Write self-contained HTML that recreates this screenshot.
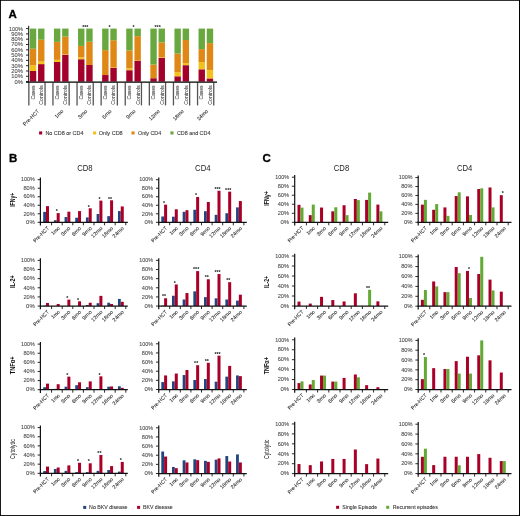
<!DOCTYPE html>
<html><head><meta charset="utf-8"><style>
html,body{margin:0;padding:0;background:#fff;}
svg{display:block;filter:blur(0.3px);}
text{font-family:"Liberation Sans", sans-serif;}
</style></head><body>
<svg width="520" height="516" viewBox="0 0 520 516">
<rect x="0.00" y="0.00" width="520.00" height="516.00" fill="#000"/>
<rect x="0.90" y="0.80" width="518.10" height="514.30" fill="#fff"/>
<text x="8.60" y="18.30" font-size="11.5" text-anchor="start" fill="#000" font-weight="bold" stroke="#000" stroke-width="0.3">A</text>
<text x="8.90" y="161.60" font-size="11.5" text-anchor="start" fill="#000" font-weight="bold" stroke="#000" stroke-width="0.3">B</text>
<text x="262.60" y="161.60" font-size="11.5" text-anchor="start" fill="#000" font-weight="bold" stroke="#000" stroke-width="0.3">C</text>
<rect x="29.85" y="71.00" width="6.40" height="10.60" fill="#a3002c"/>
<rect x="29.85" y="65.17" width="6.40" height="5.83" fill="#f2c21c"/>
<rect x="29.85" y="48.74" width="6.40" height="16.43" fill="#e08816"/>
<rect x="29.85" y="28.60" width="6.40" height="20.14" fill="#68a83e"/>
<rect x="38.05" y="64.11" width="6.40" height="17.49" fill="#a3002c"/>
<rect x="38.05" y="61.46" width="6.40" height="2.65" fill="#f2c21c"/>
<rect x="38.05" y="39.73" width="6.40" height="21.73" fill="#e08816"/>
<rect x="38.05" y="28.60" width="6.40" height="11.13" fill="#68a83e"/>
<line x1="28.85" y1="82.40" x2="28.85" y2="105.40" stroke="#555" stroke-width="1.3"/>
<line x1="45.05" y1="82.40" x2="45.05" y2="105.40" stroke="#555" stroke-width="1.3"/>
<text transform="translate(34.75,85.40) rotate(-90)" x="0" y="0" font-size="5.2" text-anchor="end" fill="#444" font-weight="normal" textLength="14.20" lengthAdjust="spacingAndGlyphs" stroke="#444" stroke-width="0.08">Cases</text>
<text transform="translate(43.15,85.40) rotate(-90)" x="0" y="0" font-size="5.2" text-anchor="end" fill="#444" font-weight="normal" textLength="19.30" lengthAdjust="spacingAndGlyphs" stroke="#444" stroke-width="0.08">Controls</text>
<rect x="53.95" y="61.99" width="6.40" height="19.61" fill="#a3002c"/>
<rect x="53.95" y="59.87" width="6.40" height="2.12" fill="#f2c21c"/>
<rect x="53.95" y="41.85" width="6.40" height="18.02" fill="#e08816"/>
<rect x="53.95" y="28.60" width="6.40" height="13.25" fill="#68a83e"/>
<rect x="62.15" y="54.89" width="6.40" height="26.71" fill="#a3002c"/>
<rect x="62.15" y="54.57" width="6.40" height="0.32" fill="#f2c21c"/>
<rect x="62.15" y="36.55" width="6.40" height="18.02" fill="#e08816"/>
<rect x="62.15" y="28.60" width="6.40" height="7.95" fill="#68a83e"/>
<line x1="52.95" y1="82.40" x2="52.95" y2="105.40" stroke="#555" stroke-width="1.3"/>
<line x1="69.15" y1="82.40" x2="69.15" y2="105.40" stroke="#555" stroke-width="1.3"/>
<text transform="translate(58.85,85.40) rotate(-90)" x="0" y="0" font-size="5.2" text-anchor="end" fill="#444" font-weight="normal" textLength="14.20" lengthAdjust="spacingAndGlyphs" stroke="#444" stroke-width="0.08">Cases</text>
<text transform="translate(67.25,85.40) rotate(-90)" x="0" y="0" font-size="5.2" text-anchor="end" fill="#444" font-weight="normal" textLength="19.30" lengthAdjust="spacingAndGlyphs" stroke="#444" stroke-width="0.08">Controls</text>
<rect x="78.05" y="59.23" width="6.40" height="22.37" fill="#a3002c"/>
<rect x="78.05" y="57.33" width="6.40" height="1.91" fill="#f2c21c"/>
<rect x="78.05" y="45.93" width="6.40" height="11.39" fill="#e08816"/>
<rect x="78.05" y="28.60" width="6.40" height="17.33" fill="#68a83e"/>
<rect x="86.25" y="65.01" width="6.40" height="16.59" fill="#a3002c"/>
<rect x="86.25" y="41.74" width="6.40" height="23.27" fill="#e08816"/>
<rect x="86.25" y="28.60" width="6.40" height="13.14" fill="#68a83e"/>
<line x1="77.05" y1="82.40" x2="77.05" y2="105.40" stroke="#555" stroke-width="1.3"/>
<line x1="93.25" y1="82.40" x2="93.25" y2="105.40" stroke="#555" stroke-width="1.3"/>
<text transform="translate(82.95,85.40) rotate(-90)" x="0" y="0" font-size="5.2" text-anchor="end" fill="#444" font-weight="normal" textLength="14.20" lengthAdjust="spacingAndGlyphs" stroke="#444" stroke-width="0.08">Cases</text>
<text transform="translate(91.35,85.40) rotate(-90)" x="0" y="0" font-size="5.2" text-anchor="end" fill="#444" font-weight="normal" textLength="19.30" lengthAdjust="spacingAndGlyphs" stroke="#444" stroke-width="0.08">Controls</text>
<rect x="102.15" y="75.03" width="6.40" height="6.57" fill="#a3002c"/>
<rect x="102.15" y="50.12" width="6.40" height="24.91" fill="#e08816"/>
<rect x="102.15" y="28.60" width="6.40" height="21.52" fill="#68a83e"/>
<rect x="110.35" y="67.82" width="6.40" height="13.78" fill="#a3002c"/>
<rect x="110.35" y="67.45" width="6.40" height="0.37" fill="#f2c21c"/>
<rect x="110.35" y="40.26" width="6.40" height="27.19" fill="#e08816"/>
<rect x="110.35" y="28.60" width="6.40" height="11.66" fill="#68a83e"/>
<line x1="101.15" y1="82.40" x2="101.15" y2="105.40" stroke="#555" stroke-width="1.3"/>
<line x1="117.35" y1="82.40" x2="117.35" y2="105.40" stroke="#555" stroke-width="1.3"/>
<text transform="translate(107.05,85.40) rotate(-90)" x="0" y="0" font-size="5.2" text-anchor="end" fill="#444" font-weight="normal" textLength="14.20" lengthAdjust="spacingAndGlyphs" stroke="#444" stroke-width="0.08">Cases</text>
<text transform="translate(115.45,85.40) rotate(-90)" x="0" y="0" font-size="5.2" text-anchor="end" fill="#444" font-weight="normal" textLength="19.30" lengthAdjust="spacingAndGlyphs" stroke="#444" stroke-width="0.08">Controls</text>
<rect x="126.25" y="70.20" width="6.40" height="11.39" fill="#a3002c"/>
<rect x="126.25" y="68.46" width="6.40" height="1.75" fill="#f2c21c"/>
<rect x="126.25" y="50.38" width="6.40" height="18.07" fill="#e08816"/>
<rect x="126.25" y="28.60" width="6.40" height="21.78" fill="#68a83e"/>
<rect x="134.45" y="60.93" width="6.40" height="20.67" fill="#a3002c"/>
<rect x="134.45" y="60.72" width="6.40" height="0.21" fill="#f2c21c"/>
<rect x="134.45" y="36.18" width="6.40" height="24.54" fill="#e08816"/>
<rect x="134.45" y="28.60" width="6.40" height="7.58" fill="#68a83e"/>
<line x1="125.25" y1="82.40" x2="125.25" y2="105.40" stroke="#555" stroke-width="1.3"/>
<line x1="141.45" y1="82.40" x2="141.45" y2="105.40" stroke="#555" stroke-width="1.3"/>
<text transform="translate(131.15,85.40) rotate(-90)" x="0" y="0" font-size="5.2" text-anchor="end" fill="#444" font-weight="normal" textLength="14.20" lengthAdjust="spacingAndGlyphs" stroke="#444" stroke-width="0.08">Cases</text>
<text transform="translate(139.55,85.40) rotate(-90)" x="0" y="0" font-size="5.2" text-anchor="end" fill="#444" font-weight="normal" textLength="19.30" lengthAdjust="spacingAndGlyphs" stroke="#444" stroke-width="0.08">Controls</text>
<rect x="150.35" y="78.21" width="6.40" height="3.39" fill="#a3002c"/>
<rect x="150.35" y="64.53" width="6.40" height="13.67" fill="#e08816"/>
<rect x="150.35" y="28.60" width="6.40" height="35.93" fill="#68a83e"/>
<rect x="158.55" y="57.75" width="6.40" height="23.85" fill="#a3002c"/>
<rect x="158.55" y="57.22" width="6.40" height="0.53" fill="#f2c21c"/>
<rect x="158.55" y="42.38" width="6.40" height="14.84" fill="#e08816"/>
<rect x="158.55" y="28.60" width="6.40" height="13.78" fill="#68a83e"/>
<line x1="149.35" y1="82.40" x2="149.35" y2="105.40" stroke="#555" stroke-width="1.3"/>
<line x1="165.55" y1="82.40" x2="165.55" y2="105.40" stroke="#555" stroke-width="1.3"/>
<text transform="translate(155.25,85.40) rotate(-90)" x="0" y="0" font-size="5.2" text-anchor="end" fill="#444" font-weight="normal" textLength="14.20" lengthAdjust="spacingAndGlyphs" stroke="#444" stroke-width="0.08">Cases</text>
<text transform="translate(163.65,85.40) rotate(-90)" x="0" y="0" font-size="5.2" text-anchor="end" fill="#444" font-weight="normal" textLength="19.30" lengthAdjust="spacingAndGlyphs" stroke="#444" stroke-width="0.08">Controls</text>
<rect x="174.45" y="76.30" width="6.40" height="5.30" fill="#a3002c"/>
<rect x="174.45" y="72.11" width="6.40" height="4.19" fill="#f2c21c"/>
<rect x="174.45" y="53.51" width="6.40" height="18.60" fill="#e08816"/>
<rect x="174.45" y="28.60" width="6.40" height="24.91" fill="#68a83e"/>
<rect x="182.65" y="65.17" width="6.40" height="16.43" fill="#a3002c"/>
<rect x="182.65" y="63.05" width="6.40" height="2.12" fill="#f2c21c"/>
<rect x="182.65" y="40.00" width="6.40" height="23.05" fill="#e08816"/>
<rect x="182.65" y="28.60" width="6.40" height="11.40" fill="#68a83e"/>
<line x1="173.45" y1="82.40" x2="173.45" y2="105.40" stroke="#555" stroke-width="1.3"/>
<line x1="189.65" y1="82.40" x2="189.65" y2="105.40" stroke="#555" stroke-width="1.3"/>
<text transform="translate(179.35,85.40) rotate(-90)" x="0" y="0" font-size="5.2" text-anchor="end" fill="#444" font-weight="normal" textLength="14.20" lengthAdjust="spacingAndGlyphs" stroke="#444" stroke-width="0.08">Cases</text>
<text transform="translate(187.75,85.40) rotate(-90)" x="0" y="0" font-size="5.2" text-anchor="end" fill="#444" font-weight="normal" textLength="19.30" lengthAdjust="spacingAndGlyphs" stroke="#444" stroke-width="0.08">Controls</text>
<rect x="198.55" y="69.30" width="6.40" height="12.30" fill="#a3002c"/>
<rect x="198.55" y="62.10" width="6.40" height="7.21" fill="#f2c21c"/>
<rect x="198.55" y="49.11" width="6.40" height="12.98" fill="#e08816"/>
<rect x="198.55" y="28.60" width="6.40" height="20.51" fill="#68a83e"/>
<rect x="206.75" y="78.42" width="6.40" height="3.18" fill="#a3002c"/>
<rect x="206.75" y="69.94" width="6.40" height="8.48" fill="#f2c21c"/>
<rect x="206.75" y="43.12" width="6.40" height="26.82" fill="#e08816"/>
<rect x="206.75" y="28.60" width="6.40" height="14.52" fill="#68a83e"/>
<line x1="197.55" y1="82.40" x2="197.55" y2="105.40" stroke="#555" stroke-width="1.3"/>
<line x1="213.75" y1="82.40" x2="213.75" y2="105.40" stroke="#555" stroke-width="1.3"/>
<text transform="translate(203.45,85.40) rotate(-90)" x="0" y="0" font-size="5.2" text-anchor="end" fill="#444" font-weight="normal" textLength="14.20" lengthAdjust="spacingAndGlyphs" stroke="#444" stroke-width="0.08">Cases</text>
<text transform="translate(211.85,85.40) rotate(-90)" x="0" y="0" font-size="5.2" text-anchor="end" fill="#444" font-weight="normal" textLength="19.30" lengthAdjust="spacingAndGlyphs" stroke="#444" stroke-width="0.08">Controls</text>
<line x1="28.70" y1="25.80" x2="28.70" y2="82.40" stroke="#111" stroke-width="1.0"/>
<line x1="26.00" y1="82.15" x2="217.00" y2="82.15" stroke="#000" stroke-width="1.1"/>
<line x1="26.00" y1="81.60" x2="28.70" y2="81.60" stroke="#111" stroke-width="0.9"/>
<text x="22.90" y="83.50" font-size="5.0" text-anchor="end" fill="#4a4a4a" font-weight="normal" textLength="8.40" lengthAdjust="spacingAndGlyphs" stroke="#4a4a4a" stroke-width="0.08">0%</text>
<line x1="26.00" y1="76.30" x2="28.70" y2="76.30" stroke="#111" stroke-width="0.9"/>
<text x="22.90" y="78.20" font-size="5.0" text-anchor="end" fill="#4a4a4a" font-weight="normal" textLength="11.60" lengthAdjust="spacingAndGlyphs" stroke="#4a4a4a" stroke-width="0.08">10%</text>
<line x1="26.00" y1="71.00" x2="28.70" y2="71.00" stroke="#111" stroke-width="0.9"/>
<text x="22.90" y="72.90" font-size="5.0" text-anchor="end" fill="#4a4a4a" font-weight="normal" textLength="11.60" lengthAdjust="spacingAndGlyphs" stroke="#4a4a4a" stroke-width="0.08">20%</text>
<line x1="26.00" y1="65.70" x2="28.70" y2="65.70" stroke="#111" stroke-width="0.9"/>
<text x="22.90" y="67.60" font-size="5.0" text-anchor="end" fill="#4a4a4a" font-weight="normal" textLength="11.60" lengthAdjust="spacingAndGlyphs" stroke="#4a4a4a" stroke-width="0.08">30%</text>
<line x1="26.00" y1="60.40" x2="28.70" y2="60.40" stroke="#111" stroke-width="0.9"/>
<text x="22.90" y="62.30" font-size="5.0" text-anchor="end" fill="#4a4a4a" font-weight="normal" textLength="11.60" lengthAdjust="spacingAndGlyphs" stroke="#4a4a4a" stroke-width="0.08">40%</text>
<line x1="26.00" y1="55.10" x2="28.70" y2="55.10" stroke="#111" stroke-width="0.9"/>
<text x="22.90" y="57.00" font-size="5.0" text-anchor="end" fill="#4a4a4a" font-weight="normal" textLength="11.60" lengthAdjust="spacingAndGlyphs" stroke="#4a4a4a" stroke-width="0.08">50%</text>
<line x1="26.00" y1="49.80" x2="28.70" y2="49.80" stroke="#111" stroke-width="0.9"/>
<text x="22.90" y="51.70" font-size="5.0" text-anchor="end" fill="#4a4a4a" font-weight="normal" textLength="11.60" lengthAdjust="spacingAndGlyphs" stroke="#4a4a4a" stroke-width="0.08">60%</text>
<line x1="26.00" y1="44.50" x2="28.70" y2="44.50" stroke="#111" stroke-width="0.9"/>
<text x="22.90" y="46.40" font-size="5.0" text-anchor="end" fill="#4a4a4a" font-weight="normal" textLength="11.60" lengthAdjust="spacingAndGlyphs" stroke="#4a4a4a" stroke-width="0.08">70%</text>
<line x1="26.00" y1="39.20" x2="28.70" y2="39.20" stroke="#111" stroke-width="0.9"/>
<text x="22.90" y="41.10" font-size="5.0" text-anchor="end" fill="#4a4a4a" font-weight="normal" textLength="11.60" lengthAdjust="spacingAndGlyphs" stroke="#4a4a4a" stroke-width="0.08">80%</text>
<line x1="26.00" y1="33.90" x2="28.70" y2="33.90" stroke="#111" stroke-width="0.9"/>
<text x="22.90" y="35.80" font-size="5.0" text-anchor="end" fill="#4a4a4a" font-weight="normal" textLength="11.60" lengthAdjust="spacingAndGlyphs" stroke="#4a4a4a" stroke-width="0.08">90%</text>
<line x1="26.00" y1="28.60" x2="28.70" y2="28.60" stroke="#111" stroke-width="0.9"/>
<text x="22.90" y="30.50" font-size="5.0" text-anchor="end" fill="#4a4a4a" font-weight="normal" textLength="13.90" lengthAdjust="spacingAndGlyphs" stroke="#4a4a4a" stroke-width="0.08">100%</text>
<text transform="translate(39.55,111.60) rotate(-45)" x="0" y="0" font-size="5.2" text-anchor="end" fill="#2a2a2a" font-weight="normal" textLength="20.60" lengthAdjust="spacingAndGlyphs" stroke="#2a2a2a" stroke-width="0.08">Pre-HCT</text>
<text transform="translate(63.65,111.60) rotate(-45)" x="0" y="0" font-size="5.2" text-anchor="end" fill="#2a2a2a" font-weight="normal" textLength="9.80" lengthAdjust="spacingAndGlyphs" stroke="#2a2a2a" stroke-width="0.08">1mo</text>
<text transform="translate(87.75,111.60) rotate(-45)" x="0" y="0" font-size="5.2" text-anchor="end" fill="#2a2a2a" font-weight="normal" textLength="10.80" lengthAdjust="spacingAndGlyphs" stroke="#2a2a2a" stroke-width="0.08">3mo</text>
<text transform="translate(111.85,111.60) rotate(-45)" x="0" y="0" font-size="5.2" text-anchor="end" fill="#2a2a2a" font-weight="normal" textLength="10.80" lengthAdjust="spacingAndGlyphs" stroke="#2a2a2a" stroke-width="0.08">6mo</text>
<text transform="translate(135.95,111.60) rotate(-45)" x="0" y="0" font-size="5.2" text-anchor="end" fill="#2a2a2a" font-weight="normal" textLength="10.80" lengthAdjust="spacingAndGlyphs" stroke="#2a2a2a" stroke-width="0.08">9mo</text>
<text transform="translate(160.05,111.60) rotate(-45)" x="0" y="0" font-size="5.2" text-anchor="end" fill="#2a2a2a" font-weight="normal" textLength="13.00" lengthAdjust="spacingAndGlyphs" stroke="#2a2a2a" stroke-width="0.08">12mo</text>
<text transform="translate(184.15,111.60) rotate(-45)" x="0" y="0" font-size="5.2" text-anchor="end" fill="#2a2a2a" font-weight="normal" textLength="13.00" lengthAdjust="spacingAndGlyphs" stroke="#2a2a2a" stroke-width="0.08">18mo</text>
<text transform="translate(208.25,111.60) rotate(-45)" x="0" y="0" font-size="5.2" text-anchor="end" fill="#2a2a2a" font-weight="normal" textLength="13.00" lengthAdjust="spacingAndGlyphs" stroke="#2a2a2a" stroke-width="0.08">24mo</text>
<text x="85.35" y="29.00" font-size="6.0" text-anchor="middle" fill="#111" font-weight="bold" textLength="6.15" lengthAdjust="spacingAndGlyphs">***</text>
<text x="109.45" y="29.00" font-size="6.0" text-anchor="middle" fill="#111" font-weight="bold" textLength="2.05" lengthAdjust="spacingAndGlyphs">*</text>
<text x="133.55" y="29.00" font-size="6.0" text-anchor="middle" fill="#111" font-weight="bold" textLength="2.05" lengthAdjust="spacingAndGlyphs">*</text>
<text x="157.65" y="29.00" font-size="6.0" text-anchor="middle" fill="#111" font-weight="bold" textLength="6.15" lengthAdjust="spacingAndGlyphs">***</text>
<rect x="39.10" y="131.40" width="3.10" height="3.10" fill="#a3002c"/>
<text x="45.40" y="134.80" font-size="5.2" text-anchor="start" fill="#333" font-weight="normal" textLength="38.10" lengthAdjust="spacingAndGlyphs" stroke="#333" stroke-width="0.08">No CD8 or CD4</text>
<rect x="93.10" y="131.40" width="3.10" height="3.10" fill="#f2c21c"/>
<text x="98.80" y="134.80" font-size="5.2" text-anchor="start" fill="#333" font-weight="normal" textLength="23.90" lengthAdjust="spacingAndGlyphs" stroke="#333" stroke-width="0.08">Only CD8</text>
<rect x="131.50" y="131.40" width="3.10" height="3.10" fill="#e08816"/>
<text x="138.00" y="134.80" font-size="5.2" text-anchor="start" fill="#333" font-weight="normal" textLength="23.20" lengthAdjust="spacingAndGlyphs" stroke="#333" stroke-width="0.08">Only CD4</text>
<rect x="170.40" y="131.40" width="3.10" height="3.10" fill="#68a83e"/>
<text x="176.90" y="134.80" font-size="5.2" text-anchor="start" fill="#333" font-weight="normal" textLength="33.50" lengthAdjust="spacingAndGlyphs" stroke="#333" stroke-width="0.08">CD8 and CD4</text>
<rect x="43.20" y="211.89" width="2.80" height="10.41" fill="#23447e"/>
<rect x="46.00" y="206.14" width="3.00" height="16.16" fill="#aa0028"/>
<rect x="53.88" y="220.20" width="2.80" height="2.10" fill="#23447e"/>
<rect x="56.68" y="213.08" width="3.00" height="9.22" fill="#aa0028"/>
<rect x="64.56" y="217.04" width="2.80" height="5.26" fill="#23447e"/>
<rect x="67.36" y="211.68" width="3.00" height="10.62" fill="#aa0028"/>
<rect x="75.24" y="217.73" width="2.80" height="4.57" fill="#23447e"/>
<rect x="78.04" y="211.08" width="3.00" height="11.22" fill="#aa0028"/>
<rect x="85.92" y="217.43" width="2.80" height="4.87" fill="#23447e"/>
<rect x="88.72" y="208.31" width="3.00" height="13.99" fill="#aa0028"/>
<rect x="96.60" y="213.98" width="2.80" height="8.32" fill="#23447e"/>
<rect x="99.40" y="200.60" width="3.00" height="21.70" fill="#aa0028"/>
<rect x="107.28" y="216.15" width="2.80" height="6.15" fill="#23447e"/>
<rect x="110.08" y="200.30" width="3.00" height="22.00" fill="#aa0028"/>
<rect x="117.96" y="211.08" width="2.80" height="11.22" fill="#23447e"/>
<rect x="120.76" y="206.44" width="3.00" height="15.86" fill="#aa0028"/>
<text x="56.68" y="213.28" font-size="6.0" text-anchor="middle" fill="#111" font-weight="bold" textLength="2.05" lengthAdjust="spacingAndGlyphs">*</text>
<text x="88.72" y="208.51" font-size="6.0" text-anchor="middle" fill="#111" font-weight="bold" textLength="2.05" lengthAdjust="spacingAndGlyphs">*</text>
<text x="99.40" y="200.80" font-size="6.0" text-anchor="middle" fill="#111" font-weight="bold" textLength="2.05" lengthAdjust="spacingAndGlyphs">*</text>
<text x="110.08" y="200.50" font-size="6.0" text-anchor="middle" fill="#111" font-weight="bold" textLength="4.10" lengthAdjust="spacingAndGlyphs">**</text>
<line x1="40.40" y1="177.50" x2="40.40" y2="225.50" stroke="#111" stroke-width="1.2"/>
<line x1="39.80" y1="222.30" x2="127.80" y2="222.30" stroke="#111" stroke-width="1.25"/>
<line x1="37.60" y1="222.30" x2="40.40" y2="222.30" stroke="#111" stroke-width="0.9"/>
<text x="34.70" y="224.05" font-size="5.2" text-anchor="end" fill="#4a4a4a" font-weight="normal" textLength="8.60" lengthAdjust="spacingAndGlyphs" stroke="#4a4a4a" stroke-width="0.08">0%</text>
<line x1="37.60" y1="213.78" x2="40.40" y2="213.78" stroke="#111" stroke-width="0.9"/>
<text x="34.70" y="215.53" font-size="5.2" text-anchor="end" fill="#4a4a4a" font-weight="normal" textLength="11.30" lengthAdjust="spacingAndGlyphs" stroke="#4a4a4a" stroke-width="0.08">20%</text>
<line x1="37.60" y1="205.26" x2="40.40" y2="205.26" stroke="#111" stroke-width="0.9"/>
<text x="34.70" y="207.01" font-size="5.2" text-anchor="end" fill="#4a4a4a" font-weight="normal" textLength="11.30" lengthAdjust="spacingAndGlyphs" stroke="#4a4a4a" stroke-width="0.08">40%</text>
<line x1="37.60" y1="196.74" x2="40.40" y2="196.74" stroke="#111" stroke-width="0.9"/>
<text x="34.70" y="198.49" font-size="5.2" text-anchor="end" fill="#4a4a4a" font-weight="normal" textLength="11.30" lengthAdjust="spacingAndGlyphs" stroke="#4a4a4a" stroke-width="0.08">60%</text>
<line x1="37.60" y1="188.22" x2="40.40" y2="188.22" stroke="#111" stroke-width="0.9"/>
<text x="34.70" y="189.97" font-size="5.2" text-anchor="end" fill="#4a4a4a" font-weight="normal" textLength="11.30" lengthAdjust="spacingAndGlyphs" stroke="#4a4a4a" stroke-width="0.08">80%</text>
<line x1="37.60" y1="179.70" x2="40.40" y2="179.70" stroke="#111" stroke-width="0.9"/>
<text x="34.70" y="181.45" font-size="5.2" text-anchor="end" fill="#4a4a4a" font-weight="normal" textLength="13.80" lengthAdjust="spacingAndGlyphs" stroke="#4a4a4a" stroke-width="0.08">100%</text>
<line x1="51.60" y1="222.30" x2="51.60" y2="225.30" stroke="#111" stroke-width="0.9"/>
<line x1="62.20" y1="222.30" x2="62.20" y2="225.30" stroke="#111" stroke-width="0.9"/>
<line x1="72.80" y1="222.30" x2="72.80" y2="225.30" stroke="#111" stroke-width="0.9"/>
<line x1="83.40" y1="222.30" x2="83.40" y2="225.30" stroke="#111" stroke-width="0.9"/>
<line x1="94.00" y1="222.30" x2="94.00" y2="225.30" stroke="#111" stroke-width="0.9"/>
<line x1="104.60" y1="222.30" x2="104.60" y2="225.30" stroke="#111" stroke-width="0.9"/>
<line x1="115.20" y1="222.30" x2="115.20" y2="225.30" stroke="#111" stroke-width="0.9"/>
<line x1="125.80" y1="222.30" x2="125.80" y2="225.30" stroke="#111" stroke-width="0.9"/>
<text transform="translate(49.40,228.60) rotate(-45)" x="0" y="0" font-size="5.2" text-anchor="end" fill="#2a2a2a" font-weight="normal" textLength="20.20" lengthAdjust="spacingAndGlyphs" stroke="#2a2a2a" stroke-width="0.08">Pre-HCT</text>
<text transform="translate(60.08,228.60) rotate(-45)" x="0" y="0" font-size="5.2" text-anchor="end" fill="#2a2a2a" font-weight="normal" textLength="9.50" lengthAdjust="spacingAndGlyphs" stroke="#2a2a2a" stroke-width="0.08">1mo</text>
<text transform="translate(70.76,228.60) rotate(-45)" x="0" y="0" font-size="5.2" text-anchor="end" fill="#2a2a2a" font-weight="normal" textLength="11.00" lengthAdjust="spacingAndGlyphs" stroke="#2a2a2a" stroke-width="0.08">3mo</text>
<text transform="translate(81.44,228.60) rotate(-45)" x="0" y="0" font-size="5.2" text-anchor="end" fill="#2a2a2a" font-weight="normal" textLength="11.00" lengthAdjust="spacingAndGlyphs" stroke="#2a2a2a" stroke-width="0.08">6mo</text>
<text transform="translate(92.12,228.60) rotate(-45)" x="0" y="0" font-size="5.2" text-anchor="end" fill="#2a2a2a" font-weight="normal" textLength="11.00" lengthAdjust="spacingAndGlyphs" stroke="#2a2a2a" stroke-width="0.08">9mo</text>
<text transform="translate(102.80,228.60) rotate(-45)" x="0" y="0" font-size="5.2" text-anchor="end" fill="#2a2a2a" font-weight="normal" textLength="13.50" lengthAdjust="spacingAndGlyphs" stroke="#2a2a2a" stroke-width="0.08">12mo</text>
<text transform="translate(113.48,228.60) rotate(-45)" x="0" y="0" font-size="5.2" text-anchor="end" fill="#2a2a2a" font-weight="normal" textLength="13.50" lengthAdjust="spacingAndGlyphs" stroke="#2a2a2a" stroke-width="0.08">18mo</text>
<text transform="translate(124.16,228.60) rotate(-45)" x="0" y="0" font-size="5.2" text-anchor="end" fill="#2a2a2a" font-weight="normal" textLength="13.50" lengthAdjust="spacingAndGlyphs" stroke="#2a2a2a" stroke-width="0.08">24mo</text>
<rect x="161.30" y="216.48" width="2.80" height="5.82" fill="#23447e"/>
<rect x="164.10" y="204.64" width="3.00" height="17.66" fill="#aa0028"/>
<rect x="171.98" y="216.70" width="2.80" height="5.60" fill="#23447e"/>
<rect x="174.78" y="209.28" width="3.00" height="13.02" fill="#aa0028"/>
<rect x="182.66" y="211.84" width="2.80" height="10.46" fill="#23447e"/>
<rect x="185.46" y="210.18" width="3.00" height="12.12" fill="#aa0028"/>
<rect x="193.34" y="209.75" width="2.80" height="12.55" fill="#23447e"/>
<rect x="196.14" y="196.97" width="3.00" height="25.33" fill="#aa0028"/>
<rect x="204.02" y="211.20" width="2.80" height="11.10" fill="#23447e"/>
<rect x="206.82" y="201.96" width="3.00" height="20.34" fill="#aa0028"/>
<rect x="214.70" y="214.82" width="2.80" height="7.48" fill="#23447e"/>
<rect x="217.50" y="190.75" width="3.00" height="31.55" fill="#aa0028"/>
<rect x="225.38" y="213.24" width="2.80" height="9.06" fill="#23447e"/>
<rect x="228.18" y="191.65" width="3.00" height="30.65" fill="#aa0028"/>
<rect x="236.06" y="207.37" width="2.80" height="14.93" fill="#23447e"/>
<rect x="238.86" y="201.06" width="3.00" height="21.24" fill="#aa0028"/>
<text x="164.10" y="204.84" font-size="6.0" text-anchor="middle" fill="#111" font-weight="bold" textLength="2.05" lengthAdjust="spacingAndGlyphs">*</text>
<text x="196.14" y="197.17" font-size="6.0" text-anchor="middle" fill="#111" font-weight="bold" textLength="2.05" lengthAdjust="spacingAndGlyphs">*</text>
<text x="217.50" y="190.95" font-size="6.0" text-anchor="middle" fill="#111" font-weight="bold" textLength="6.15" lengthAdjust="spacingAndGlyphs">***</text>
<text x="228.18" y="191.85" font-size="6.0" text-anchor="middle" fill="#111" font-weight="bold" textLength="6.15" lengthAdjust="spacingAndGlyphs">***</text>
<line x1="158.75" y1="177.50" x2="158.75" y2="225.50" stroke="#111" stroke-width="1.2"/>
<line x1="158.15" y1="222.30" x2="246.80" y2="222.30" stroke="#111" stroke-width="1.25"/>
<line x1="155.95" y1="222.30" x2="158.75" y2="222.30" stroke="#111" stroke-width="0.9"/>
<text x="153.05" y="224.05" font-size="5.2" text-anchor="end" fill="#4a4a4a" font-weight="normal" textLength="8.60" lengthAdjust="spacingAndGlyphs" stroke="#4a4a4a" stroke-width="0.08">0%</text>
<line x1="155.95" y1="213.78" x2="158.75" y2="213.78" stroke="#111" stroke-width="0.9"/>
<text x="153.05" y="215.53" font-size="5.2" text-anchor="end" fill="#4a4a4a" font-weight="normal" textLength="11.30" lengthAdjust="spacingAndGlyphs" stroke="#4a4a4a" stroke-width="0.08">20%</text>
<line x1="155.95" y1="205.26" x2="158.75" y2="205.26" stroke="#111" stroke-width="0.9"/>
<text x="153.05" y="207.01" font-size="5.2" text-anchor="end" fill="#4a4a4a" font-weight="normal" textLength="11.30" lengthAdjust="spacingAndGlyphs" stroke="#4a4a4a" stroke-width="0.08">40%</text>
<line x1="155.95" y1="196.74" x2="158.75" y2="196.74" stroke="#111" stroke-width="0.9"/>
<text x="153.05" y="198.49" font-size="5.2" text-anchor="end" fill="#4a4a4a" font-weight="normal" textLength="11.30" lengthAdjust="spacingAndGlyphs" stroke="#4a4a4a" stroke-width="0.08">60%</text>
<line x1="155.95" y1="188.22" x2="158.75" y2="188.22" stroke="#111" stroke-width="0.9"/>
<text x="153.05" y="189.97" font-size="5.2" text-anchor="end" fill="#4a4a4a" font-weight="normal" textLength="11.30" lengthAdjust="spacingAndGlyphs" stroke="#4a4a4a" stroke-width="0.08">80%</text>
<line x1="155.95" y1="179.70" x2="158.75" y2="179.70" stroke="#111" stroke-width="0.9"/>
<text x="153.05" y="181.45" font-size="5.2" text-anchor="end" fill="#4a4a4a" font-weight="normal" textLength="13.80" lengthAdjust="spacingAndGlyphs" stroke="#4a4a4a" stroke-width="0.08">100%</text>
<line x1="169.70" y1="222.30" x2="169.70" y2="225.30" stroke="#111" stroke-width="0.9"/>
<line x1="180.30" y1="222.30" x2="180.30" y2="225.30" stroke="#111" stroke-width="0.9"/>
<line x1="190.90" y1="222.30" x2="190.90" y2="225.30" stroke="#111" stroke-width="0.9"/>
<line x1="201.50" y1="222.30" x2="201.50" y2="225.30" stroke="#111" stroke-width="0.9"/>
<line x1="212.10" y1="222.30" x2="212.10" y2="225.30" stroke="#111" stroke-width="0.9"/>
<line x1="222.70" y1="222.30" x2="222.70" y2="225.30" stroke="#111" stroke-width="0.9"/>
<line x1="233.30" y1="222.30" x2="233.30" y2="225.30" stroke="#111" stroke-width="0.9"/>
<line x1="243.90" y1="222.30" x2="243.90" y2="225.30" stroke="#111" stroke-width="0.9"/>
<text transform="translate(167.50,228.60) rotate(-45)" x="0" y="0" font-size="5.2" text-anchor="end" fill="#2a2a2a" font-weight="normal" textLength="20.20" lengthAdjust="spacingAndGlyphs" stroke="#2a2a2a" stroke-width="0.08">Pre-HCT</text>
<text transform="translate(178.18,228.60) rotate(-45)" x="0" y="0" font-size="5.2" text-anchor="end" fill="#2a2a2a" font-weight="normal" textLength="9.50" lengthAdjust="spacingAndGlyphs" stroke="#2a2a2a" stroke-width="0.08">1mo</text>
<text transform="translate(188.86,228.60) rotate(-45)" x="0" y="0" font-size="5.2" text-anchor="end" fill="#2a2a2a" font-weight="normal" textLength="11.00" lengthAdjust="spacingAndGlyphs" stroke="#2a2a2a" stroke-width="0.08">3mo</text>
<text transform="translate(199.54,228.60) rotate(-45)" x="0" y="0" font-size="5.2" text-anchor="end" fill="#2a2a2a" font-weight="normal" textLength="11.00" lengthAdjust="spacingAndGlyphs" stroke="#2a2a2a" stroke-width="0.08">6mo</text>
<text transform="translate(210.22,228.60) rotate(-45)" x="0" y="0" font-size="5.2" text-anchor="end" fill="#2a2a2a" font-weight="normal" textLength="11.00" lengthAdjust="spacingAndGlyphs" stroke="#2a2a2a" stroke-width="0.08">9mo</text>
<text transform="translate(220.90,228.60) rotate(-45)" x="0" y="0" font-size="5.2" text-anchor="end" fill="#2a2a2a" font-weight="normal" textLength="13.50" lengthAdjust="spacingAndGlyphs" stroke="#2a2a2a" stroke-width="0.08">12mo</text>
<text transform="translate(231.58,228.60) rotate(-45)" x="0" y="0" font-size="5.2" text-anchor="end" fill="#2a2a2a" font-weight="normal" textLength="13.50" lengthAdjust="spacingAndGlyphs" stroke="#2a2a2a" stroke-width="0.08">18mo</text>
<text transform="translate(242.26,228.60) rotate(-45)" x="0" y="0" font-size="5.2" text-anchor="end" fill="#2a2a2a" font-weight="normal" textLength="13.50" lengthAdjust="spacingAndGlyphs" stroke="#2a2a2a" stroke-width="0.08">24mo</text>
<rect x="43.20" y="305.57" width="2.80" height="0.48" fill="#23447e"/>
<rect x="46.00" y="302.97" width="3.00" height="3.08" fill="#aa0028"/>
<rect x="56.68" y="303.97" width="3.00" height="2.08" fill="#aa0028"/>
<rect x="67.36" y="299.63" width="3.00" height="6.42" fill="#aa0028"/>
<rect x="78.04" y="301.32" width="3.00" height="4.73" fill="#aa0028"/>
<rect x="85.92" y="305.02" width="2.80" height="1.03" fill="#23447e"/>
<rect x="88.72" y="302.74" width="3.00" height="3.31" fill="#aa0028"/>
<rect x="96.60" y="303.20" width="2.80" height="2.85" fill="#23447e"/>
<rect x="99.40" y="295.88" width="3.00" height="10.17" fill="#aa0028"/>
<rect x="107.28" y="302.74" width="2.80" height="3.31" fill="#23447e"/>
<rect x="110.08" y="303.97" width="3.00" height="2.08" fill="#aa0028"/>
<rect x="117.96" y="298.94" width="2.80" height="7.11" fill="#23447e"/>
<rect x="120.76" y="301.82" width="3.00" height="4.23" fill="#aa0028"/>
<text x="67.36" y="299.83" font-size="6.0" text-anchor="middle" fill="#111" font-weight="bold" textLength="2.05" lengthAdjust="spacingAndGlyphs">*</text>
<text x="78.04" y="301.52" font-size="6.0" text-anchor="middle" fill="#111" font-weight="bold" textLength="2.05" lengthAdjust="spacingAndGlyphs">*</text>
<line x1="40.40" y1="258.15" x2="40.40" y2="309.25" stroke="#111" stroke-width="1.2"/>
<line x1="39.80" y1="306.05" x2="127.80" y2="306.05" stroke="#111" stroke-width="1.25"/>
<line x1="37.60" y1="306.05" x2="40.40" y2="306.05" stroke="#111" stroke-width="0.9"/>
<text x="34.70" y="307.80" font-size="5.2" text-anchor="end" fill="#4a4a4a" font-weight="normal" textLength="8.60" lengthAdjust="spacingAndGlyphs" stroke="#4a4a4a" stroke-width="0.08">0%</text>
<line x1="37.60" y1="296.91" x2="40.40" y2="296.91" stroke="#111" stroke-width="0.9"/>
<text x="34.70" y="298.66" font-size="5.2" text-anchor="end" fill="#4a4a4a" font-weight="normal" textLength="11.30" lengthAdjust="spacingAndGlyphs" stroke="#4a4a4a" stroke-width="0.08">20%</text>
<line x1="37.60" y1="287.77" x2="40.40" y2="287.77" stroke="#111" stroke-width="0.9"/>
<text x="34.70" y="289.52" font-size="5.2" text-anchor="end" fill="#4a4a4a" font-weight="normal" textLength="11.30" lengthAdjust="spacingAndGlyphs" stroke="#4a4a4a" stroke-width="0.08">40%</text>
<line x1="37.60" y1="278.63" x2="40.40" y2="278.63" stroke="#111" stroke-width="0.9"/>
<text x="34.70" y="280.38" font-size="5.2" text-anchor="end" fill="#4a4a4a" font-weight="normal" textLength="11.30" lengthAdjust="spacingAndGlyphs" stroke="#4a4a4a" stroke-width="0.08">60%</text>
<line x1="37.60" y1="269.49" x2="40.40" y2="269.49" stroke="#111" stroke-width="0.9"/>
<text x="34.70" y="271.24" font-size="5.2" text-anchor="end" fill="#4a4a4a" font-weight="normal" textLength="11.30" lengthAdjust="spacingAndGlyphs" stroke="#4a4a4a" stroke-width="0.08">80%</text>
<line x1="37.60" y1="260.35" x2="40.40" y2="260.35" stroke="#111" stroke-width="0.9"/>
<text x="34.70" y="262.10" font-size="5.2" text-anchor="end" fill="#4a4a4a" font-weight="normal" textLength="13.80" lengthAdjust="spacingAndGlyphs" stroke="#4a4a4a" stroke-width="0.08">100%</text>
<line x1="51.60" y1="306.05" x2="51.60" y2="309.05" stroke="#111" stroke-width="0.9"/>
<line x1="62.20" y1="306.05" x2="62.20" y2="309.05" stroke="#111" stroke-width="0.9"/>
<line x1="72.80" y1="306.05" x2="72.80" y2="309.05" stroke="#111" stroke-width="0.9"/>
<line x1="83.40" y1="306.05" x2="83.40" y2="309.05" stroke="#111" stroke-width="0.9"/>
<line x1="94.00" y1="306.05" x2="94.00" y2="309.05" stroke="#111" stroke-width="0.9"/>
<line x1="104.60" y1="306.05" x2="104.60" y2="309.05" stroke="#111" stroke-width="0.9"/>
<line x1="115.20" y1="306.05" x2="115.20" y2="309.05" stroke="#111" stroke-width="0.9"/>
<line x1="125.80" y1="306.05" x2="125.80" y2="309.05" stroke="#111" stroke-width="0.9"/>
<text transform="translate(49.40,312.35) rotate(-45)" x="0" y="0" font-size="5.2" text-anchor="end" fill="#2a2a2a" font-weight="normal" textLength="20.20" lengthAdjust="spacingAndGlyphs" stroke="#2a2a2a" stroke-width="0.08">Pre-HCT</text>
<text transform="translate(60.08,312.35) rotate(-45)" x="0" y="0" font-size="5.2" text-anchor="end" fill="#2a2a2a" font-weight="normal" textLength="9.50" lengthAdjust="spacingAndGlyphs" stroke="#2a2a2a" stroke-width="0.08">1mo</text>
<text transform="translate(70.76,312.35) rotate(-45)" x="0" y="0" font-size="5.2" text-anchor="end" fill="#2a2a2a" font-weight="normal" textLength="11.00" lengthAdjust="spacingAndGlyphs" stroke="#2a2a2a" stroke-width="0.08">3mo</text>
<text transform="translate(81.44,312.35) rotate(-45)" x="0" y="0" font-size="5.2" text-anchor="end" fill="#2a2a2a" font-weight="normal" textLength="11.00" lengthAdjust="spacingAndGlyphs" stroke="#2a2a2a" stroke-width="0.08">6mo</text>
<text transform="translate(92.12,312.35) rotate(-45)" x="0" y="0" font-size="5.2" text-anchor="end" fill="#2a2a2a" font-weight="normal" textLength="11.00" lengthAdjust="spacingAndGlyphs" stroke="#2a2a2a" stroke-width="0.08">9mo</text>
<text transform="translate(102.80,312.35) rotate(-45)" x="0" y="0" font-size="5.2" text-anchor="end" fill="#2a2a2a" font-weight="normal" textLength="13.50" lengthAdjust="spacingAndGlyphs" stroke="#2a2a2a" stroke-width="0.08">12mo</text>
<text transform="translate(113.48,312.35) rotate(-45)" x="0" y="0" font-size="5.2" text-anchor="end" fill="#2a2a2a" font-weight="normal" textLength="13.50" lengthAdjust="spacingAndGlyphs" stroke="#2a2a2a" stroke-width="0.08">18mo</text>
<text transform="translate(124.16,312.35) rotate(-45)" x="0" y="0" font-size="5.2" text-anchor="end" fill="#2a2a2a" font-weight="normal" textLength="13.50" lengthAdjust="spacingAndGlyphs" stroke="#2a2a2a" stroke-width="0.08">24mo</text>
<rect x="161.30" y="305.57" width="2.80" height="0.48" fill="#23447e"/>
<rect x="164.10" y="298.26" width="3.00" height="7.79" fill="#aa0028"/>
<rect x="171.98" y="295.75" width="2.80" height="10.30" fill="#23447e"/>
<rect x="174.78" y="284.46" width="3.00" height="21.59" fill="#aa0028"/>
<rect x="182.66" y="299.49" width="2.80" height="6.56" fill="#23447e"/>
<rect x="185.46" y="293.05" width="3.00" height="13.00" fill="#aa0028"/>
<rect x="193.34" y="291.36" width="2.80" height="14.69" fill="#23447e"/>
<rect x="196.14" y="271.11" width="3.00" height="34.94" fill="#aa0028"/>
<rect x="204.02" y="297.12" width="2.80" height="8.93" fill="#23447e"/>
<rect x="206.82" y="279.25" width="3.00" height="26.80" fill="#aa0028"/>
<rect x="214.70" y="298.31" width="2.80" height="7.74" fill="#23447e"/>
<rect x="217.50" y="274.04" width="3.00" height="32.01" fill="#aa0028"/>
<rect x="225.38" y="299.49" width="2.80" height="6.56" fill="#23447e"/>
<rect x="228.18" y="282.17" width="3.00" height="23.88" fill="#aa0028"/>
<rect x="236.06" y="300.59" width="2.80" height="5.46" fill="#23447e"/>
<rect x="238.86" y="294.69" width="3.00" height="11.36" fill="#aa0028"/>
<text x="164.10" y="298.46" font-size="6.0" text-anchor="middle" fill="#111" font-weight="bold" textLength="4.10" lengthAdjust="spacingAndGlyphs">**</text>
<text x="174.78" y="284.66" font-size="6.0" text-anchor="middle" fill="#111" font-weight="bold" textLength="2.05" lengthAdjust="spacingAndGlyphs">*</text>
<text x="196.14" y="271.31" font-size="6.0" text-anchor="middle" fill="#111" font-weight="bold" textLength="6.15" lengthAdjust="spacingAndGlyphs">***</text>
<text x="206.82" y="279.45" font-size="6.0" text-anchor="middle" fill="#111" font-weight="bold" textLength="4.10" lengthAdjust="spacingAndGlyphs">**</text>
<text x="217.50" y="274.24" font-size="6.0" text-anchor="middle" fill="#111" font-weight="bold" textLength="6.15" lengthAdjust="spacingAndGlyphs">***</text>
<text x="228.18" y="282.37" font-size="6.0" text-anchor="middle" fill="#111" font-weight="bold" textLength="4.10" lengthAdjust="spacingAndGlyphs">**</text>
<line x1="158.75" y1="258.15" x2="158.75" y2="309.25" stroke="#111" stroke-width="1.2"/>
<line x1="158.15" y1="306.05" x2="246.80" y2="306.05" stroke="#111" stroke-width="1.25"/>
<line x1="155.95" y1="306.05" x2="158.75" y2="306.05" stroke="#111" stroke-width="0.9"/>
<text x="153.05" y="307.80" font-size="5.2" text-anchor="end" fill="#4a4a4a" font-weight="normal" textLength="8.60" lengthAdjust="spacingAndGlyphs" stroke="#4a4a4a" stroke-width="0.08">0%</text>
<line x1="155.95" y1="296.91" x2="158.75" y2="296.91" stroke="#111" stroke-width="0.9"/>
<text x="153.05" y="298.66" font-size="5.2" text-anchor="end" fill="#4a4a4a" font-weight="normal" textLength="11.30" lengthAdjust="spacingAndGlyphs" stroke="#4a4a4a" stroke-width="0.08">20%</text>
<line x1="155.95" y1="287.77" x2="158.75" y2="287.77" stroke="#111" stroke-width="0.9"/>
<text x="153.05" y="289.52" font-size="5.2" text-anchor="end" fill="#4a4a4a" font-weight="normal" textLength="11.30" lengthAdjust="spacingAndGlyphs" stroke="#4a4a4a" stroke-width="0.08">40%</text>
<line x1="155.95" y1="278.63" x2="158.75" y2="278.63" stroke="#111" stroke-width="0.9"/>
<text x="153.05" y="280.38" font-size="5.2" text-anchor="end" fill="#4a4a4a" font-weight="normal" textLength="11.30" lengthAdjust="spacingAndGlyphs" stroke="#4a4a4a" stroke-width="0.08">60%</text>
<line x1="155.95" y1="269.49" x2="158.75" y2="269.49" stroke="#111" stroke-width="0.9"/>
<text x="153.05" y="271.24" font-size="5.2" text-anchor="end" fill="#4a4a4a" font-weight="normal" textLength="11.30" lengthAdjust="spacingAndGlyphs" stroke="#4a4a4a" stroke-width="0.08">80%</text>
<line x1="155.95" y1="260.35" x2="158.75" y2="260.35" stroke="#111" stroke-width="0.9"/>
<text x="153.05" y="262.10" font-size="5.2" text-anchor="end" fill="#4a4a4a" font-weight="normal" textLength="13.80" lengthAdjust="spacingAndGlyphs" stroke="#4a4a4a" stroke-width="0.08">100%</text>
<line x1="169.70" y1="306.05" x2="169.70" y2="309.05" stroke="#111" stroke-width="0.9"/>
<line x1="180.30" y1="306.05" x2="180.30" y2="309.05" stroke="#111" stroke-width="0.9"/>
<line x1="190.90" y1="306.05" x2="190.90" y2="309.05" stroke="#111" stroke-width="0.9"/>
<line x1="201.50" y1="306.05" x2="201.50" y2="309.05" stroke="#111" stroke-width="0.9"/>
<line x1="212.10" y1="306.05" x2="212.10" y2="309.05" stroke="#111" stroke-width="0.9"/>
<line x1="222.70" y1="306.05" x2="222.70" y2="309.05" stroke="#111" stroke-width="0.9"/>
<line x1="233.30" y1="306.05" x2="233.30" y2="309.05" stroke="#111" stroke-width="0.9"/>
<line x1="243.90" y1="306.05" x2="243.90" y2="309.05" stroke="#111" stroke-width="0.9"/>
<text transform="translate(167.50,312.35) rotate(-45)" x="0" y="0" font-size="5.2" text-anchor="end" fill="#2a2a2a" font-weight="normal" textLength="20.20" lengthAdjust="spacingAndGlyphs" stroke="#2a2a2a" stroke-width="0.08">Pre-HCT</text>
<text transform="translate(178.18,312.35) rotate(-45)" x="0" y="0" font-size="5.2" text-anchor="end" fill="#2a2a2a" font-weight="normal" textLength="9.50" lengthAdjust="spacingAndGlyphs" stroke="#2a2a2a" stroke-width="0.08">1mo</text>
<text transform="translate(188.86,312.35) rotate(-45)" x="0" y="0" font-size="5.2" text-anchor="end" fill="#2a2a2a" font-weight="normal" textLength="11.00" lengthAdjust="spacingAndGlyphs" stroke="#2a2a2a" stroke-width="0.08">3mo</text>
<text transform="translate(199.54,312.35) rotate(-45)" x="0" y="0" font-size="5.2" text-anchor="end" fill="#2a2a2a" font-weight="normal" textLength="11.00" lengthAdjust="spacingAndGlyphs" stroke="#2a2a2a" stroke-width="0.08">6mo</text>
<text transform="translate(210.22,312.35) rotate(-45)" x="0" y="0" font-size="5.2" text-anchor="end" fill="#2a2a2a" font-weight="normal" textLength="11.00" lengthAdjust="spacingAndGlyphs" stroke="#2a2a2a" stroke-width="0.08">9mo</text>
<text transform="translate(220.90,312.35) rotate(-45)" x="0" y="0" font-size="5.2" text-anchor="end" fill="#2a2a2a" font-weight="normal" textLength="13.50" lengthAdjust="spacingAndGlyphs" stroke="#2a2a2a" stroke-width="0.08">12mo</text>
<text transform="translate(231.58,312.35) rotate(-45)" x="0" y="0" font-size="5.2" text-anchor="end" fill="#2a2a2a" font-weight="normal" textLength="13.50" lengthAdjust="spacingAndGlyphs" stroke="#2a2a2a" stroke-width="0.08">18mo</text>
<text transform="translate(242.26,312.35) rotate(-45)" x="0" y="0" font-size="5.2" text-anchor="end" fill="#2a2a2a" font-weight="normal" textLength="13.50" lengthAdjust="spacingAndGlyphs" stroke="#2a2a2a" stroke-width="0.08">24mo</text>
<rect x="43.20" y="387.23" width="2.80" height="2.47" fill="#23447e"/>
<rect x="46.00" y="383.63" width="3.00" height="6.07" fill="#aa0028"/>
<rect x="53.88" y="388.87" width="2.80" height="0.83" fill="#23447e"/>
<rect x="56.68" y="384.22" width="3.00" height="5.48" fill="#aa0028"/>
<rect x="64.56" y="386.68" width="2.80" height="3.02" fill="#23447e"/>
<rect x="67.36" y="376.65" width="3.00" height="13.05" fill="#aa0028"/>
<rect x="75.24" y="385.22" width="2.80" height="4.48" fill="#23447e"/>
<rect x="78.04" y="382.30" width="3.00" height="7.40" fill="#aa0028"/>
<rect x="85.92" y="387.18" width="2.80" height="2.52" fill="#23447e"/>
<rect x="88.72" y="381.39" width="3.00" height="8.31" fill="#aa0028"/>
<rect x="96.60" y="389.10" width="2.80" height="0.60" fill="#23447e"/>
<rect x="99.40" y="376.33" width="3.00" height="13.37" fill="#aa0028"/>
<rect x="107.28" y="386.68" width="2.80" height="3.02" fill="#23447e"/>
<rect x="110.08" y="386.45" width="3.00" height="3.25" fill="#aa0028"/>
<rect x="117.96" y="386.27" width="2.80" height="3.43" fill="#23447e"/>
<rect x="120.76" y="387.87" width="3.00" height="1.83" fill="#aa0028"/>
<text x="67.36" y="376.85" font-size="6.0" text-anchor="middle" fill="#111" font-weight="bold" textLength="2.05" lengthAdjust="spacingAndGlyphs">*</text>
<text x="99.40" y="376.53" font-size="6.0" text-anchor="middle" fill="#111" font-weight="bold" textLength="2.05" lengthAdjust="spacingAndGlyphs">*</text>
<line x1="40.40" y1="341.90" x2="40.40" y2="392.90" stroke="#111" stroke-width="1.2"/>
<line x1="39.80" y1="389.70" x2="127.80" y2="389.70" stroke="#111" stroke-width="1.25"/>
<line x1="37.60" y1="389.70" x2="40.40" y2="389.70" stroke="#111" stroke-width="0.9"/>
<text x="34.70" y="391.45" font-size="5.2" text-anchor="end" fill="#4a4a4a" font-weight="normal" textLength="8.60" lengthAdjust="spacingAndGlyphs" stroke="#4a4a4a" stroke-width="0.08">0%</text>
<line x1="37.60" y1="380.58" x2="40.40" y2="380.58" stroke="#111" stroke-width="0.9"/>
<text x="34.70" y="382.33" font-size="5.2" text-anchor="end" fill="#4a4a4a" font-weight="normal" textLength="11.30" lengthAdjust="spacingAndGlyphs" stroke="#4a4a4a" stroke-width="0.08">20%</text>
<line x1="37.60" y1="371.46" x2="40.40" y2="371.46" stroke="#111" stroke-width="0.9"/>
<text x="34.70" y="373.21" font-size="5.2" text-anchor="end" fill="#4a4a4a" font-weight="normal" textLength="11.30" lengthAdjust="spacingAndGlyphs" stroke="#4a4a4a" stroke-width="0.08">40%</text>
<line x1="37.60" y1="362.34" x2="40.40" y2="362.34" stroke="#111" stroke-width="0.9"/>
<text x="34.70" y="364.09" font-size="5.2" text-anchor="end" fill="#4a4a4a" font-weight="normal" textLength="11.30" lengthAdjust="spacingAndGlyphs" stroke="#4a4a4a" stroke-width="0.08">60%</text>
<line x1="37.60" y1="353.22" x2="40.40" y2="353.22" stroke="#111" stroke-width="0.9"/>
<text x="34.70" y="354.97" font-size="5.2" text-anchor="end" fill="#4a4a4a" font-weight="normal" textLength="11.30" lengthAdjust="spacingAndGlyphs" stroke="#4a4a4a" stroke-width="0.08">80%</text>
<line x1="37.60" y1="344.10" x2="40.40" y2="344.10" stroke="#111" stroke-width="0.9"/>
<text x="34.70" y="345.85" font-size="5.2" text-anchor="end" fill="#4a4a4a" font-weight="normal" textLength="13.80" lengthAdjust="spacingAndGlyphs" stroke="#4a4a4a" stroke-width="0.08">100%</text>
<line x1="51.60" y1="389.70" x2="51.60" y2="392.70" stroke="#111" stroke-width="0.9"/>
<line x1="62.20" y1="389.70" x2="62.20" y2="392.70" stroke="#111" stroke-width="0.9"/>
<line x1="72.80" y1="389.70" x2="72.80" y2="392.70" stroke="#111" stroke-width="0.9"/>
<line x1="83.40" y1="389.70" x2="83.40" y2="392.70" stroke="#111" stroke-width="0.9"/>
<line x1="94.00" y1="389.70" x2="94.00" y2="392.70" stroke="#111" stroke-width="0.9"/>
<line x1="104.60" y1="389.70" x2="104.60" y2="392.70" stroke="#111" stroke-width="0.9"/>
<line x1="115.20" y1="389.70" x2="115.20" y2="392.70" stroke="#111" stroke-width="0.9"/>
<line x1="125.80" y1="389.70" x2="125.80" y2="392.70" stroke="#111" stroke-width="0.9"/>
<text transform="translate(49.40,396.00) rotate(-45)" x="0" y="0" font-size="5.2" text-anchor="end" fill="#2a2a2a" font-weight="normal" textLength="20.20" lengthAdjust="spacingAndGlyphs" stroke="#2a2a2a" stroke-width="0.08">Pre-HCT</text>
<text transform="translate(60.08,396.00) rotate(-45)" x="0" y="0" font-size="5.2" text-anchor="end" fill="#2a2a2a" font-weight="normal" textLength="9.50" lengthAdjust="spacingAndGlyphs" stroke="#2a2a2a" stroke-width="0.08">1mo</text>
<text transform="translate(70.76,396.00) rotate(-45)" x="0" y="0" font-size="5.2" text-anchor="end" fill="#2a2a2a" font-weight="normal" textLength="11.00" lengthAdjust="spacingAndGlyphs" stroke="#2a2a2a" stroke-width="0.08">3mo</text>
<text transform="translate(81.44,396.00) rotate(-45)" x="0" y="0" font-size="5.2" text-anchor="end" fill="#2a2a2a" font-weight="normal" textLength="11.00" lengthAdjust="spacingAndGlyphs" stroke="#2a2a2a" stroke-width="0.08">6mo</text>
<text transform="translate(92.12,396.00) rotate(-45)" x="0" y="0" font-size="5.2" text-anchor="end" fill="#2a2a2a" font-weight="normal" textLength="11.00" lengthAdjust="spacingAndGlyphs" stroke="#2a2a2a" stroke-width="0.08">9mo</text>
<text transform="translate(102.80,396.00) rotate(-45)" x="0" y="0" font-size="5.2" text-anchor="end" fill="#2a2a2a" font-weight="normal" textLength="13.50" lengthAdjust="spacingAndGlyphs" stroke="#2a2a2a" stroke-width="0.08">12mo</text>
<text transform="translate(113.48,396.00) rotate(-45)" x="0" y="0" font-size="5.2" text-anchor="end" fill="#2a2a2a" font-weight="normal" textLength="13.50" lengthAdjust="spacingAndGlyphs" stroke="#2a2a2a" stroke-width="0.08">18mo</text>
<text transform="translate(124.16,396.00) rotate(-45)" x="0" y="0" font-size="5.2" text-anchor="end" fill="#2a2a2a" font-weight="normal" textLength="13.50" lengthAdjust="spacingAndGlyphs" stroke="#2a2a2a" stroke-width="0.08">24mo</text>
<rect x="161.30" y="382.08" width="2.80" height="7.42" fill="#23447e"/>
<rect x="164.10" y="375.45" width="3.00" height="14.05" fill="#aa0028"/>
<rect x="171.98" y="381.35" width="2.80" height="8.15" fill="#23447e"/>
<rect x="174.78" y="373.53" width="3.00" height="15.97" fill="#aa0028"/>
<rect x="182.66" y="375.04" width="2.80" height="14.46" fill="#23447e"/>
<rect x="185.46" y="370.01" width="3.00" height="19.49" fill="#aa0028"/>
<rect x="193.34" y="379.98" width="2.80" height="9.52" fill="#23447e"/>
<rect x="196.14" y="365.22" width="3.00" height="24.28" fill="#aa0028"/>
<rect x="204.02" y="379.06" width="2.80" height="10.44" fill="#23447e"/>
<rect x="206.82" y="362.79" width="3.00" height="26.71" fill="#aa0028"/>
<rect x="214.70" y="381.67" width="2.80" height="7.83" fill="#23447e"/>
<rect x="217.50" y="355.66" width="3.00" height="33.84" fill="#aa0028"/>
<rect x="225.38" y="376.64" width="2.80" height="12.86" fill="#23447e"/>
<rect x="228.18" y="365.90" width="3.00" height="23.60" fill="#aa0028"/>
<rect x="236.06" y="375.45" width="2.80" height="14.05" fill="#23447e"/>
<rect x="238.86" y="376.14" width="3.00" height="13.36" fill="#aa0028"/>
<text x="196.14" y="365.42" font-size="6.0" text-anchor="middle" fill="#111" font-weight="bold" textLength="4.10" lengthAdjust="spacingAndGlyphs">**</text>
<text x="206.82" y="362.99" font-size="6.0" text-anchor="middle" fill="#111" font-weight="bold" textLength="4.10" lengthAdjust="spacingAndGlyphs">**</text>
<text x="217.50" y="355.86" font-size="6.0" text-anchor="middle" fill="#111" font-weight="bold" textLength="6.15" lengthAdjust="spacingAndGlyphs">***</text>
<line x1="158.75" y1="341.60" x2="158.75" y2="392.70" stroke="#111" stroke-width="1.2"/>
<line x1="158.15" y1="389.50" x2="246.80" y2="389.50" stroke="#111" stroke-width="1.25"/>
<line x1="155.95" y1="389.50" x2="158.75" y2="389.50" stroke="#111" stroke-width="0.9"/>
<text x="153.05" y="391.25" font-size="5.2" text-anchor="end" fill="#4a4a4a" font-weight="normal" textLength="8.60" lengthAdjust="spacingAndGlyphs" stroke="#4a4a4a" stroke-width="0.08">0%</text>
<line x1="155.95" y1="380.36" x2="158.75" y2="380.36" stroke="#111" stroke-width="0.9"/>
<text x="153.05" y="382.11" font-size="5.2" text-anchor="end" fill="#4a4a4a" font-weight="normal" textLength="11.30" lengthAdjust="spacingAndGlyphs" stroke="#4a4a4a" stroke-width="0.08">20%</text>
<line x1="155.95" y1="371.22" x2="158.75" y2="371.22" stroke="#111" stroke-width="0.9"/>
<text x="153.05" y="372.97" font-size="5.2" text-anchor="end" fill="#4a4a4a" font-weight="normal" textLength="11.30" lengthAdjust="spacingAndGlyphs" stroke="#4a4a4a" stroke-width="0.08">40%</text>
<line x1="155.95" y1="362.08" x2="158.75" y2="362.08" stroke="#111" stroke-width="0.9"/>
<text x="153.05" y="363.83" font-size="5.2" text-anchor="end" fill="#4a4a4a" font-weight="normal" textLength="11.30" lengthAdjust="spacingAndGlyphs" stroke="#4a4a4a" stroke-width="0.08">60%</text>
<line x1="155.95" y1="352.94" x2="158.75" y2="352.94" stroke="#111" stroke-width="0.9"/>
<text x="153.05" y="354.69" font-size="5.2" text-anchor="end" fill="#4a4a4a" font-weight="normal" textLength="11.30" lengthAdjust="spacingAndGlyphs" stroke="#4a4a4a" stroke-width="0.08">80%</text>
<line x1="155.95" y1="343.80" x2="158.75" y2="343.80" stroke="#111" stroke-width="0.9"/>
<text x="153.05" y="345.55" font-size="5.2" text-anchor="end" fill="#4a4a4a" font-weight="normal" textLength="13.80" lengthAdjust="spacingAndGlyphs" stroke="#4a4a4a" stroke-width="0.08">100%</text>
<line x1="169.70" y1="389.50" x2="169.70" y2="392.50" stroke="#111" stroke-width="0.9"/>
<line x1="180.30" y1="389.50" x2="180.30" y2="392.50" stroke="#111" stroke-width="0.9"/>
<line x1="190.90" y1="389.50" x2="190.90" y2="392.50" stroke="#111" stroke-width="0.9"/>
<line x1="201.50" y1="389.50" x2="201.50" y2="392.50" stroke="#111" stroke-width="0.9"/>
<line x1="212.10" y1="389.50" x2="212.10" y2="392.50" stroke="#111" stroke-width="0.9"/>
<line x1="222.70" y1="389.50" x2="222.70" y2="392.50" stroke="#111" stroke-width="0.9"/>
<line x1="233.30" y1="389.50" x2="233.30" y2="392.50" stroke="#111" stroke-width="0.9"/>
<line x1="243.90" y1="389.50" x2="243.90" y2="392.50" stroke="#111" stroke-width="0.9"/>
<text transform="translate(167.50,395.80) rotate(-45)" x="0" y="0" font-size="5.2" text-anchor="end" fill="#2a2a2a" font-weight="normal" textLength="20.20" lengthAdjust="spacingAndGlyphs" stroke="#2a2a2a" stroke-width="0.08">Pre-HCT</text>
<text transform="translate(178.18,395.80) rotate(-45)" x="0" y="0" font-size="5.2" text-anchor="end" fill="#2a2a2a" font-weight="normal" textLength="9.50" lengthAdjust="spacingAndGlyphs" stroke="#2a2a2a" stroke-width="0.08">1mo</text>
<text transform="translate(188.86,395.80) rotate(-45)" x="0" y="0" font-size="5.2" text-anchor="end" fill="#2a2a2a" font-weight="normal" textLength="11.00" lengthAdjust="spacingAndGlyphs" stroke="#2a2a2a" stroke-width="0.08">3mo</text>
<text transform="translate(199.54,395.80) rotate(-45)" x="0" y="0" font-size="5.2" text-anchor="end" fill="#2a2a2a" font-weight="normal" textLength="11.00" lengthAdjust="spacingAndGlyphs" stroke="#2a2a2a" stroke-width="0.08">6mo</text>
<text transform="translate(210.22,395.80) rotate(-45)" x="0" y="0" font-size="5.2" text-anchor="end" fill="#2a2a2a" font-weight="normal" textLength="11.00" lengthAdjust="spacingAndGlyphs" stroke="#2a2a2a" stroke-width="0.08">9mo</text>
<text transform="translate(220.90,395.80) rotate(-45)" x="0" y="0" font-size="5.2" text-anchor="end" fill="#2a2a2a" font-weight="normal" textLength="13.50" lengthAdjust="spacingAndGlyphs" stroke="#2a2a2a" stroke-width="0.08">12mo</text>
<text transform="translate(231.58,395.80) rotate(-45)" x="0" y="0" font-size="5.2" text-anchor="end" fill="#2a2a2a" font-weight="normal" textLength="13.50" lengthAdjust="spacingAndGlyphs" stroke="#2a2a2a" stroke-width="0.08">18mo</text>
<text transform="translate(242.26,395.80) rotate(-45)" x="0" y="0" font-size="5.2" text-anchor="end" fill="#2a2a2a" font-weight="normal" textLength="13.50" lengthAdjust="spacingAndGlyphs" stroke="#2a2a2a" stroke-width="0.08">24mo</text>
<rect x="43.20" y="471.11" width="2.80" height="2.19" fill="#23447e"/>
<rect x="46.00" y="466.58" width="3.00" height="6.72" fill="#aa0028"/>
<rect x="53.88" y="469.00" width="2.80" height="4.30" fill="#23447e"/>
<rect x="56.68" y="467.50" width="3.00" height="5.80" fill="#aa0028"/>
<rect x="64.56" y="470.88" width="2.80" height="2.42" fill="#23447e"/>
<rect x="67.36" y="465.39" width="3.00" height="7.91" fill="#aa0028"/>
<rect x="75.24" y="472.11" width="2.80" height="1.19" fill="#23447e"/>
<rect x="78.04" y="462.79" width="3.00" height="10.51" fill="#aa0028"/>
<rect x="85.92" y="472.11" width="2.80" height="1.19" fill="#23447e"/>
<rect x="88.72" y="463.29" width="3.00" height="10.01" fill="#aa0028"/>
<rect x="96.60" y="470.88" width="2.80" height="2.42" fill="#23447e"/>
<rect x="99.40" y="455.02" width="3.00" height="18.28" fill="#aa0028"/>
<rect x="107.28" y="470.01" width="2.80" height="3.29" fill="#23447e"/>
<rect x="110.08" y="466.08" width="3.00" height="7.22" fill="#aa0028"/>
<rect x="117.96" y="471.61" width="2.80" height="1.69" fill="#23447e"/>
<rect x="120.76" y="461.92" width="3.00" height="11.38" fill="#aa0028"/>
<text x="78.04" y="462.99" font-size="6.0" text-anchor="middle" fill="#111" font-weight="bold" textLength="2.05" lengthAdjust="spacingAndGlyphs">*</text>
<text x="88.72" y="463.49" font-size="6.0" text-anchor="middle" fill="#111" font-weight="bold" textLength="2.05" lengthAdjust="spacingAndGlyphs">*</text>
<text x="99.40" y="455.22" font-size="6.0" text-anchor="middle" fill="#111" font-weight="bold" textLength="4.10" lengthAdjust="spacingAndGlyphs">**</text>
<text x="120.76" y="462.12" font-size="6.0" text-anchor="middle" fill="#111" font-weight="bold" textLength="2.05" lengthAdjust="spacingAndGlyphs">*</text>
<line x1="40.40" y1="425.40" x2="40.40" y2="476.50" stroke="#111" stroke-width="1.2"/>
<line x1="39.80" y1="473.30" x2="127.80" y2="473.30" stroke="#111" stroke-width="1.25"/>
<line x1="37.60" y1="473.30" x2="40.40" y2="473.30" stroke="#111" stroke-width="0.9"/>
<text x="34.70" y="475.05" font-size="5.2" text-anchor="end" fill="#4a4a4a" font-weight="normal" textLength="8.60" lengthAdjust="spacingAndGlyphs" stroke="#4a4a4a" stroke-width="0.08">0%</text>
<line x1="37.60" y1="464.16" x2="40.40" y2="464.16" stroke="#111" stroke-width="0.9"/>
<text x="34.70" y="465.91" font-size="5.2" text-anchor="end" fill="#4a4a4a" font-weight="normal" textLength="11.30" lengthAdjust="spacingAndGlyphs" stroke="#4a4a4a" stroke-width="0.08">20%</text>
<line x1="37.60" y1="455.02" x2="40.40" y2="455.02" stroke="#111" stroke-width="0.9"/>
<text x="34.70" y="456.77" font-size="5.2" text-anchor="end" fill="#4a4a4a" font-weight="normal" textLength="11.30" lengthAdjust="spacingAndGlyphs" stroke="#4a4a4a" stroke-width="0.08">40%</text>
<line x1="37.60" y1="445.88" x2="40.40" y2="445.88" stroke="#111" stroke-width="0.9"/>
<text x="34.70" y="447.63" font-size="5.2" text-anchor="end" fill="#4a4a4a" font-weight="normal" textLength="11.30" lengthAdjust="spacingAndGlyphs" stroke="#4a4a4a" stroke-width="0.08">60%</text>
<line x1="37.60" y1="436.74" x2="40.40" y2="436.74" stroke="#111" stroke-width="0.9"/>
<text x="34.70" y="438.49" font-size="5.2" text-anchor="end" fill="#4a4a4a" font-weight="normal" textLength="11.30" lengthAdjust="spacingAndGlyphs" stroke="#4a4a4a" stroke-width="0.08">80%</text>
<line x1="37.60" y1="427.60" x2="40.40" y2="427.60" stroke="#111" stroke-width="0.9"/>
<text x="34.70" y="429.35" font-size="5.2" text-anchor="end" fill="#4a4a4a" font-weight="normal" textLength="13.80" lengthAdjust="spacingAndGlyphs" stroke="#4a4a4a" stroke-width="0.08">100%</text>
<line x1="51.60" y1="473.30" x2="51.60" y2="476.30" stroke="#111" stroke-width="0.9"/>
<line x1="62.20" y1="473.30" x2="62.20" y2="476.30" stroke="#111" stroke-width="0.9"/>
<line x1="72.80" y1="473.30" x2="72.80" y2="476.30" stroke="#111" stroke-width="0.9"/>
<line x1="83.40" y1="473.30" x2="83.40" y2="476.30" stroke="#111" stroke-width="0.9"/>
<line x1="94.00" y1="473.30" x2="94.00" y2="476.30" stroke="#111" stroke-width="0.9"/>
<line x1="104.60" y1="473.30" x2="104.60" y2="476.30" stroke="#111" stroke-width="0.9"/>
<line x1="115.20" y1="473.30" x2="115.20" y2="476.30" stroke="#111" stroke-width="0.9"/>
<line x1="125.80" y1="473.30" x2="125.80" y2="476.30" stroke="#111" stroke-width="0.9"/>
<text transform="translate(49.40,479.60) rotate(-45)" x="0" y="0" font-size="5.2" text-anchor="end" fill="#2a2a2a" font-weight="normal" textLength="20.20" lengthAdjust="spacingAndGlyphs" stroke="#2a2a2a" stroke-width="0.08">Pre-HCT</text>
<text transform="translate(60.08,479.60) rotate(-45)" x="0" y="0" font-size="5.2" text-anchor="end" fill="#2a2a2a" font-weight="normal" textLength="9.50" lengthAdjust="spacingAndGlyphs" stroke="#2a2a2a" stroke-width="0.08">1mo</text>
<text transform="translate(70.76,479.60) rotate(-45)" x="0" y="0" font-size="5.2" text-anchor="end" fill="#2a2a2a" font-weight="normal" textLength="11.00" lengthAdjust="spacingAndGlyphs" stroke="#2a2a2a" stroke-width="0.08">3mo</text>
<text transform="translate(81.44,479.60) rotate(-45)" x="0" y="0" font-size="5.2" text-anchor="end" fill="#2a2a2a" font-weight="normal" textLength="11.00" lengthAdjust="spacingAndGlyphs" stroke="#2a2a2a" stroke-width="0.08">6mo</text>
<text transform="translate(92.12,479.60) rotate(-45)" x="0" y="0" font-size="5.2" text-anchor="end" fill="#2a2a2a" font-weight="normal" textLength="11.00" lengthAdjust="spacingAndGlyphs" stroke="#2a2a2a" stroke-width="0.08">9mo</text>
<text transform="translate(102.80,479.60) rotate(-45)" x="0" y="0" font-size="5.2" text-anchor="end" fill="#2a2a2a" font-weight="normal" textLength="13.50" lengthAdjust="spacingAndGlyphs" stroke="#2a2a2a" stroke-width="0.08">12mo</text>
<text transform="translate(113.48,479.60) rotate(-45)" x="0" y="0" font-size="5.2" text-anchor="end" fill="#2a2a2a" font-weight="normal" textLength="13.50" lengthAdjust="spacingAndGlyphs" stroke="#2a2a2a" stroke-width="0.08">18mo</text>
<text transform="translate(124.16,479.60) rotate(-45)" x="0" y="0" font-size="5.2" text-anchor="end" fill="#2a2a2a" font-weight="normal" textLength="13.50" lengthAdjust="spacingAndGlyphs" stroke="#2a2a2a" stroke-width="0.08">24mo</text>
<rect x="161.30" y="451.52" width="2.80" height="21.98" fill="#23447e"/>
<rect x="164.10" y="456.55" width="3.00" height="16.95" fill="#aa0028"/>
<rect x="171.98" y="466.96" width="2.80" height="6.54" fill="#23447e"/>
<rect x="174.78" y="468.20" width="3.00" height="5.30" fill="#aa0028"/>
<rect x="182.66" y="460.34" width="2.80" height="13.16" fill="#23447e"/>
<rect x="185.46" y="462.44" width="3.00" height="11.06" fill="#aa0028"/>
<rect x="193.34" y="459.33" width="2.80" height="14.17" fill="#23447e"/>
<rect x="196.14" y="460.16" width="3.00" height="13.34" fill="#aa0028"/>
<rect x="204.02" y="460.84" width="2.80" height="12.66" fill="#23447e"/>
<rect x="206.82" y="461.85" width="3.00" height="11.65" fill="#aa0028"/>
<rect x="214.70" y="459.65" width="2.80" height="13.85" fill="#23447e"/>
<rect x="217.50" y="458.42" width="3.00" height="15.08" fill="#aa0028"/>
<rect x="225.38" y="456.04" width="2.80" height="17.46" fill="#23447e"/>
<rect x="228.18" y="461.53" width="3.00" height="11.97" fill="#aa0028"/>
<rect x="236.06" y="454.40" width="2.80" height="19.10" fill="#23447e"/>
<rect x="238.86" y="462.44" width="3.00" height="11.06" fill="#aa0028"/>
<line x1="158.75" y1="425.60" x2="158.75" y2="476.70" stroke="#111" stroke-width="1.2"/>
<line x1="158.15" y1="473.50" x2="246.80" y2="473.50" stroke="#111" stroke-width="1.25"/>
<line x1="155.95" y1="473.50" x2="158.75" y2="473.50" stroke="#111" stroke-width="0.9"/>
<text x="153.05" y="475.25" font-size="5.2" text-anchor="end" fill="#4a4a4a" font-weight="normal" textLength="8.60" lengthAdjust="spacingAndGlyphs" stroke="#4a4a4a" stroke-width="0.08">0%</text>
<line x1="155.95" y1="464.36" x2="158.75" y2="464.36" stroke="#111" stroke-width="0.9"/>
<text x="153.05" y="466.11" font-size="5.2" text-anchor="end" fill="#4a4a4a" font-weight="normal" textLength="11.30" lengthAdjust="spacingAndGlyphs" stroke="#4a4a4a" stroke-width="0.08">20%</text>
<line x1="155.95" y1="455.22" x2="158.75" y2="455.22" stroke="#111" stroke-width="0.9"/>
<text x="153.05" y="456.97" font-size="5.2" text-anchor="end" fill="#4a4a4a" font-weight="normal" textLength="11.30" lengthAdjust="spacingAndGlyphs" stroke="#4a4a4a" stroke-width="0.08">40%</text>
<line x1="155.95" y1="446.08" x2="158.75" y2="446.08" stroke="#111" stroke-width="0.9"/>
<text x="153.05" y="447.83" font-size="5.2" text-anchor="end" fill="#4a4a4a" font-weight="normal" textLength="11.30" lengthAdjust="spacingAndGlyphs" stroke="#4a4a4a" stroke-width="0.08">60%</text>
<line x1="155.95" y1="436.94" x2="158.75" y2="436.94" stroke="#111" stroke-width="0.9"/>
<text x="153.05" y="438.69" font-size="5.2" text-anchor="end" fill="#4a4a4a" font-weight="normal" textLength="11.30" lengthAdjust="spacingAndGlyphs" stroke="#4a4a4a" stroke-width="0.08">80%</text>
<line x1="155.95" y1="427.80" x2="158.75" y2="427.80" stroke="#111" stroke-width="0.9"/>
<text x="153.05" y="429.55" font-size="5.2" text-anchor="end" fill="#4a4a4a" font-weight="normal" textLength="13.80" lengthAdjust="spacingAndGlyphs" stroke="#4a4a4a" stroke-width="0.08">100%</text>
<line x1="169.70" y1="473.50" x2="169.70" y2="476.50" stroke="#111" stroke-width="0.9"/>
<line x1="180.30" y1="473.50" x2="180.30" y2="476.50" stroke="#111" stroke-width="0.9"/>
<line x1="190.90" y1="473.50" x2="190.90" y2="476.50" stroke="#111" stroke-width="0.9"/>
<line x1="201.50" y1="473.50" x2="201.50" y2="476.50" stroke="#111" stroke-width="0.9"/>
<line x1="212.10" y1="473.50" x2="212.10" y2="476.50" stroke="#111" stroke-width="0.9"/>
<line x1="222.70" y1="473.50" x2="222.70" y2="476.50" stroke="#111" stroke-width="0.9"/>
<line x1="233.30" y1="473.50" x2="233.30" y2="476.50" stroke="#111" stroke-width="0.9"/>
<line x1="243.90" y1="473.50" x2="243.90" y2="476.50" stroke="#111" stroke-width="0.9"/>
<text transform="translate(167.50,479.80) rotate(-45)" x="0" y="0" font-size="5.2" text-anchor="end" fill="#2a2a2a" font-weight="normal" textLength="20.20" lengthAdjust="spacingAndGlyphs" stroke="#2a2a2a" stroke-width="0.08">Pre-HCT</text>
<text transform="translate(178.18,479.80) rotate(-45)" x="0" y="0" font-size="5.2" text-anchor="end" fill="#2a2a2a" font-weight="normal" textLength="9.50" lengthAdjust="spacingAndGlyphs" stroke="#2a2a2a" stroke-width="0.08">1mo</text>
<text transform="translate(188.86,479.80) rotate(-45)" x="0" y="0" font-size="5.2" text-anchor="end" fill="#2a2a2a" font-weight="normal" textLength="11.00" lengthAdjust="spacingAndGlyphs" stroke="#2a2a2a" stroke-width="0.08">3mo</text>
<text transform="translate(199.54,479.80) rotate(-45)" x="0" y="0" font-size="5.2" text-anchor="end" fill="#2a2a2a" font-weight="normal" textLength="11.00" lengthAdjust="spacingAndGlyphs" stroke="#2a2a2a" stroke-width="0.08">6mo</text>
<text transform="translate(210.22,479.80) rotate(-45)" x="0" y="0" font-size="5.2" text-anchor="end" fill="#2a2a2a" font-weight="normal" textLength="11.00" lengthAdjust="spacingAndGlyphs" stroke="#2a2a2a" stroke-width="0.08">9mo</text>
<text transform="translate(220.90,479.80) rotate(-45)" x="0" y="0" font-size="5.2" text-anchor="end" fill="#2a2a2a" font-weight="normal" textLength="13.50" lengthAdjust="spacingAndGlyphs" stroke="#2a2a2a" stroke-width="0.08">12mo</text>
<text transform="translate(231.58,479.80) rotate(-45)" x="0" y="0" font-size="5.2" text-anchor="end" fill="#2a2a2a" font-weight="normal" textLength="13.50" lengthAdjust="spacingAndGlyphs" stroke="#2a2a2a" stroke-width="0.08">18mo</text>
<text transform="translate(242.26,479.80) rotate(-45)" x="0" y="0" font-size="5.2" text-anchor="end" fill="#2a2a2a" font-weight="normal" textLength="13.50" lengthAdjust="spacingAndGlyphs" stroke="#2a2a2a" stroke-width="0.08">24mo</text>
<rect x="297.50" y="204.82" width="3.00" height="17.48" fill="#aa0028"/>
<rect x="300.50" y="207.62" width="3.00" height="14.68" fill="#62aa34"/>
<rect x="308.77" y="215.15" width="3.00" height="7.15" fill="#aa0028"/>
<rect x="311.77" y="204.60" width="3.00" height="17.70" fill="#62aa34"/>
<rect x="320.04" y="207.53" width="3.00" height="14.77" fill="#aa0028"/>
<rect x="331.31" y="211.32" width="3.00" height="10.98" fill="#aa0028"/>
<rect x="334.31" y="207.30" width="3.00" height="15.00" fill="#62aa34"/>
<rect x="342.58" y="205.23" width="3.00" height="17.07" fill="#aa0028"/>
<rect x="345.58" y="215.15" width="3.00" height="7.15" fill="#62aa34"/>
<rect x="353.85" y="199.00" width="3.00" height="23.30" fill="#aa0028"/>
<rect x="356.85" y="200.09" width="3.00" height="22.21" fill="#62aa34"/>
<rect x="365.12" y="199.91" width="3.00" height="22.39" fill="#aa0028"/>
<rect x="368.12" y="192.60" width="3.00" height="29.70" fill="#62aa34"/>
<rect x="376.39" y="204.60" width="3.00" height="17.70" fill="#aa0028"/>
<rect x="379.39" y="211.32" width="3.00" height="10.98" fill="#62aa34"/>
<line x1="294.70" y1="175.00" x2="294.70" y2="225.50" stroke="#111" stroke-width="1.2"/>
<line x1="294.10" y1="222.30" x2="388.20" y2="222.30" stroke="#111" stroke-width="1.25"/>
<line x1="291.90" y1="222.30" x2="294.70" y2="222.30" stroke="#111" stroke-width="0.9"/>
<text x="289.00" y="224.05" font-size="5.2" text-anchor="end" fill="#4a4a4a" font-weight="normal" textLength="8.60" lengthAdjust="spacingAndGlyphs" stroke="#4a4a4a" stroke-width="0.08">0%</text>
<line x1="291.90" y1="213.28" x2="294.70" y2="213.28" stroke="#111" stroke-width="0.9"/>
<text x="289.00" y="215.03" font-size="5.2" text-anchor="end" fill="#4a4a4a" font-weight="normal" textLength="11.30" lengthAdjust="spacingAndGlyphs" stroke="#4a4a4a" stroke-width="0.08">20%</text>
<line x1="291.90" y1="204.26" x2="294.70" y2="204.26" stroke="#111" stroke-width="0.9"/>
<text x="289.00" y="206.01" font-size="5.2" text-anchor="end" fill="#4a4a4a" font-weight="normal" textLength="11.30" lengthAdjust="spacingAndGlyphs" stroke="#4a4a4a" stroke-width="0.08">40%</text>
<line x1="291.90" y1="195.24" x2="294.70" y2="195.24" stroke="#111" stroke-width="0.9"/>
<text x="289.00" y="196.99" font-size="5.2" text-anchor="end" fill="#4a4a4a" font-weight="normal" textLength="11.30" lengthAdjust="spacingAndGlyphs" stroke="#4a4a4a" stroke-width="0.08">60%</text>
<line x1="291.90" y1="186.22" x2="294.70" y2="186.22" stroke="#111" stroke-width="0.9"/>
<text x="289.00" y="187.97" font-size="5.2" text-anchor="end" fill="#4a4a4a" font-weight="normal" textLength="11.30" lengthAdjust="spacingAndGlyphs" stroke="#4a4a4a" stroke-width="0.08">80%</text>
<line x1="291.90" y1="177.20" x2="294.70" y2="177.20" stroke="#111" stroke-width="0.9"/>
<text x="289.00" y="178.95" font-size="5.2" text-anchor="end" fill="#4a4a4a" font-weight="normal" textLength="13.80" lengthAdjust="spacingAndGlyphs" stroke="#4a4a4a" stroke-width="0.08">100%</text>
<line x1="306.40" y1="222.30" x2="306.40" y2="225.30" stroke="#111" stroke-width="0.9"/>
<line x1="317.60" y1="222.30" x2="317.60" y2="225.30" stroke="#111" stroke-width="0.9"/>
<line x1="328.80" y1="222.30" x2="328.80" y2="225.30" stroke="#111" stroke-width="0.9"/>
<line x1="340.00" y1="222.30" x2="340.00" y2="225.30" stroke="#111" stroke-width="0.9"/>
<line x1="351.20" y1="222.30" x2="351.20" y2="225.30" stroke="#111" stroke-width="0.9"/>
<line x1="362.40" y1="222.30" x2="362.40" y2="225.30" stroke="#111" stroke-width="0.9"/>
<line x1="373.60" y1="222.30" x2="373.60" y2="225.30" stroke="#111" stroke-width="0.9"/>
<line x1="384.80" y1="222.30" x2="384.80" y2="225.30" stroke="#111" stroke-width="0.9"/>
<text transform="translate(303.90,228.60) rotate(-45)" x="0" y="0" font-size="5.2" text-anchor="end" fill="#2a2a2a" font-weight="normal" textLength="20.20" lengthAdjust="spacingAndGlyphs" stroke="#2a2a2a" stroke-width="0.08">Pre-HCT</text>
<text transform="translate(315.17,228.60) rotate(-45)" x="0" y="0" font-size="5.2" text-anchor="end" fill="#2a2a2a" font-weight="normal" textLength="9.50" lengthAdjust="spacingAndGlyphs" stroke="#2a2a2a" stroke-width="0.08">1mo</text>
<text transform="translate(326.44,228.60) rotate(-45)" x="0" y="0" font-size="5.2" text-anchor="end" fill="#2a2a2a" font-weight="normal" textLength="11.00" lengthAdjust="spacingAndGlyphs" stroke="#2a2a2a" stroke-width="0.08">3mo</text>
<text transform="translate(337.71,228.60) rotate(-45)" x="0" y="0" font-size="5.2" text-anchor="end" fill="#2a2a2a" font-weight="normal" textLength="11.00" lengthAdjust="spacingAndGlyphs" stroke="#2a2a2a" stroke-width="0.08">6mo</text>
<text transform="translate(348.98,228.60) rotate(-45)" x="0" y="0" font-size="5.2" text-anchor="end" fill="#2a2a2a" font-weight="normal" textLength="11.00" lengthAdjust="spacingAndGlyphs" stroke="#2a2a2a" stroke-width="0.08">9mo</text>
<text transform="translate(360.25,228.60) rotate(-45)" x="0" y="0" font-size="5.2" text-anchor="end" fill="#2a2a2a" font-weight="normal" textLength="13.50" lengthAdjust="spacingAndGlyphs" stroke="#2a2a2a" stroke-width="0.08">12mo</text>
<text transform="translate(371.52,228.60) rotate(-45)" x="0" y="0" font-size="5.2" text-anchor="end" fill="#2a2a2a" font-weight="normal" textLength="13.50" lengthAdjust="spacingAndGlyphs" stroke="#2a2a2a" stroke-width="0.08">18mo</text>
<text transform="translate(382.79,228.60) rotate(-45)" x="0" y="0" font-size="5.2" text-anchor="end" fill="#2a2a2a" font-weight="normal" textLength="13.50" lengthAdjust="spacingAndGlyphs" stroke="#2a2a2a" stroke-width="0.08">24mo</text>
<rect x="420.90" y="204.64" width="3.00" height="17.66" fill="#aa0028"/>
<rect x="423.90" y="199.85" width="3.00" height="22.45" fill="#62aa34"/>
<rect x="432.17" y="209.78" width="3.00" height="12.52" fill="#aa0028"/>
<rect x="435.17" y="204.10" width="3.00" height="18.20" fill="#62aa34"/>
<rect x="443.44" y="207.41" width="3.00" height="14.89" fill="#aa0028"/>
<rect x="446.44" y="215.85" width="3.00" height="6.45" fill="#62aa34"/>
<rect x="454.71" y="196.05" width="3.00" height="26.25" fill="#aa0028"/>
<rect x="457.71" y="192.30" width="3.00" height="30.00" fill="#62aa34"/>
<rect x="465.98" y="196.37" width="3.00" height="25.93" fill="#aa0028"/>
<rect x="468.98" y="214.96" width="3.00" height="7.34" fill="#62aa34"/>
<rect x="477.25" y="189.03" width="3.00" height="33.27" fill="#aa0028"/>
<rect x="480.25" y="188.32" width="3.00" height="33.98" fill="#62aa34"/>
<rect x="488.52" y="187.47" width="3.00" height="34.83" fill="#aa0028"/>
<rect x="491.52" y="207.41" width="3.00" height="14.89" fill="#62aa34"/>
<rect x="499.79" y="195.16" width="3.00" height="27.14" fill="#aa0028"/>
<text x="502.79" y="195.36" font-size="6.0" text-anchor="middle" fill="#111" font-weight="bold" textLength="2.05" lengthAdjust="spacingAndGlyphs">*</text>
<line x1="418.20" y1="175.40" x2="418.20" y2="225.50" stroke="#111" stroke-width="1.2"/>
<line x1="417.60" y1="222.30" x2="511.50" y2="222.30" stroke="#111" stroke-width="1.25"/>
<line x1="415.40" y1="222.30" x2="418.20" y2="222.30" stroke="#111" stroke-width="0.9"/>
<text x="412.50" y="224.05" font-size="5.2" text-anchor="end" fill="#4a4a4a" font-weight="normal" textLength="8.60" lengthAdjust="spacingAndGlyphs" stroke="#4a4a4a" stroke-width="0.08">0%</text>
<line x1="415.40" y1="213.36" x2="418.20" y2="213.36" stroke="#111" stroke-width="0.9"/>
<text x="412.50" y="215.11" font-size="5.2" text-anchor="end" fill="#4a4a4a" font-weight="normal" textLength="11.30" lengthAdjust="spacingAndGlyphs" stroke="#4a4a4a" stroke-width="0.08">20%</text>
<line x1="415.40" y1="204.42" x2="418.20" y2="204.42" stroke="#111" stroke-width="0.9"/>
<text x="412.50" y="206.17" font-size="5.2" text-anchor="end" fill="#4a4a4a" font-weight="normal" textLength="11.30" lengthAdjust="spacingAndGlyphs" stroke="#4a4a4a" stroke-width="0.08">40%</text>
<line x1="415.40" y1="195.48" x2="418.20" y2="195.48" stroke="#111" stroke-width="0.9"/>
<text x="412.50" y="197.23" font-size="5.2" text-anchor="end" fill="#4a4a4a" font-weight="normal" textLength="11.30" lengthAdjust="spacingAndGlyphs" stroke="#4a4a4a" stroke-width="0.08">60%</text>
<line x1="415.40" y1="186.54" x2="418.20" y2="186.54" stroke="#111" stroke-width="0.9"/>
<text x="412.50" y="188.29" font-size="5.2" text-anchor="end" fill="#4a4a4a" font-weight="normal" textLength="11.30" lengthAdjust="spacingAndGlyphs" stroke="#4a4a4a" stroke-width="0.08">80%</text>
<line x1="415.40" y1="177.60" x2="418.20" y2="177.60" stroke="#111" stroke-width="0.9"/>
<text x="412.50" y="179.35" font-size="5.2" text-anchor="end" fill="#4a4a4a" font-weight="normal" textLength="13.80" lengthAdjust="spacingAndGlyphs" stroke="#4a4a4a" stroke-width="0.08">100%</text>
<line x1="429.80" y1="222.30" x2="429.80" y2="225.30" stroke="#111" stroke-width="0.9"/>
<line x1="441.00" y1="222.30" x2="441.00" y2="225.30" stroke="#111" stroke-width="0.9"/>
<line x1="452.20" y1="222.30" x2="452.20" y2="225.30" stroke="#111" stroke-width="0.9"/>
<line x1="463.40" y1="222.30" x2="463.40" y2="225.30" stroke="#111" stroke-width="0.9"/>
<line x1="474.60" y1="222.30" x2="474.60" y2="225.30" stroke="#111" stroke-width="0.9"/>
<line x1="485.80" y1="222.30" x2="485.80" y2="225.30" stroke="#111" stroke-width="0.9"/>
<line x1="497.00" y1="222.30" x2="497.00" y2="225.30" stroke="#111" stroke-width="0.9"/>
<line x1="508.20" y1="222.30" x2="508.20" y2="225.30" stroke="#111" stroke-width="0.9"/>
<text transform="translate(427.30,228.60) rotate(-45)" x="0" y="0" font-size="5.2" text-anchor="end" fill="#2a2a2a" font-weight="normal" textLength="20.20" lengthAdjust="spacingAndGlyphs" stroke="#2a2a2a" stroke-width="0.08">Pre-HCT</text>
<text transform="translate(438.57,228.60) rotate(-45)" x="0" y="0" font-size="5.2" text-anchor="end" fill="#2a2a2a" font-weight="normal" textLength="9.50" lengthAdjust="spacingAndGlyphs" stroke="#2a2a2a" stroke-width="0.08">1mo</text>
<text transform="translate(449.84,228.60) rotate(-45)" x="0" y="0" font-size="5.2" text-anchor="end" fill="#2a2a2a" font-weight="normal" textLength="11.00" lengthAdjust="spacingAndGlyphs" stroke="#2a2a2a" stroke-width="0.08">3mo</text>
<text transform="translate(461.11,228.60) rotate(-45)" x="0" y="0" font-size="5.2" text-anchor="end" fill="#2a2a2a" font-weight="normal" textLength="11.00" lengthAdjust="spacingAndGlyphs" stroke="#2a2a2a" stroke-width="0.08">6mo</text>
<text transform="translate(472.38,228.60) rotate(-45)" x="0" y="0" font-size="5.2" text-anchor="end" fill="#2a2a2a" font-weight="normal" textLength="11.00" lengthAdjust="spacingAndGlyphs" stroke="#2a2a2a" stroke-width="0.08">9mo</text>
<text transform="translate(483.65,228.60) rotate(-45)" x="0" y="0" font-size="5.2" text-anchor="end" fill="#2a2a2a" font-weight="normal" textLength="13.50" lengthAdjust="spacingAndGlyphs" stroke="#2a2a2a" stroke-width="0.08">12mo</text>
<text transform="translate(494.92,228.60) rotate(-45)" x="0" y="0" font-size="5.2" text-anchor="end" fill="#2a2a2a" font-weight="normal" textLength="13.50" lengthAdjust="spacingAndGlyphs" stroke="#2a2a2a" stroke-width="0.08">18mo</text>
<text transform="translate(506.19,228.60) rotate(-45)" x="0" y="0" font-size="5.2" text-anchor="end" fill="#2a2a2a" font-weight="normal" textLength="13.50" lengthAdjust="spacingAndGlyphs" stroke="#2a2a2a" stroke-width="0.08">24mo</text>
<rect x="297.50" y="301.60" width="3.00" height="4.40" fill="#aa0028"/>
<rect x="308.77" y="303.60" width="3.00" height="2.40" fill="#aa0028"/>
<rect x="320.04" y="296.85" width="3.00" height="9.15" fill="#aa0028"/>
<rect x="331.31" y="300.05" width="3.00" height="5.95" fill="#aa0028"/>
<rect x="342.58" y="301.45" width="3.00" height="4.55" fill="#aa0028"/>
<rect x="353.85" y="293.30" width="3.00" height="12.70" fill="#aa0028"/>
<rect x="368.12" y="289.80" width="3.00" height="16.20" fill="#62aa34"/>
<rect x="376.39" y="301.35" width="3.00" height="4.65" fill="#aa0028"/>
<text x="368.12" y="290.00" font-size="6.0" text-anchor="middle" fill="#111" font-weight="bold" textLength="4.10" lengthAdjust="spacingAndGlyphs">**</text>
<line x1="294.70" y1="253.80" x2="294.70" y2="309.20" stroke="#111" stroke-width="1.2"/>
<line x1="294.10" y1="306.00" x2="388.20" y2="306.00" stroke="#111" stroke-width="1.25"/>
<line x1="291.90" y1="306.00" x2="294.70" y2="306.00" stroke="#111" stroke-width="0.9"/>
<text x="289.00" y="307.75" font-size="5.2" text-anchor="end" fill="#4a4a4a" font-weight="normal" textLength="8.60" lengthAdjust="spacingAndGlyphs" stroke="#4a4a4a" stroke-width="0.08">0%</text>
<line x1="291.90" y1="296.00" x2="294.70" y2="296.00" stroke="#111" stroke-width="0.9"/>
<text x="289.00" y="297.75" font-size="5.2" text-anchor="end" fill="#4a4a4a" font-weight="normal" textLength="11.30" lengthAdjust="spacingAndGlyphs" stroke="#4a4a4a" stroke-width="0.08">20%</text>
<line x1="291.90" y1="286.00" x2="294.70" y2="286.00" stroke="#111" stroke-width="0.9"/>
<text x="289.00" y="287.75" font-size="5.2" text-anchor="end" fill="#4a4a4a" font-weight="normal" textLength="11.30" lengthAdjust="spacingAndGlyphs" stroke="#4a4a4a" stroke-width="0.08">40%</text>
<line x1="291.90" y1="276.00" x2="294.70" y2="276.00" stroke="#111" stroke-width="0.9"/>
<text x="289.00" y="277.75" font-size="5.2" text-anchor="end" fill="#4a4a4a" font-weight="normal" textLength="11.30" lengthAdjust="spacingAndGlyphs" stroke="#4a4a4a" stroke-width="0.08">60%</text>
<line x1="291.90" y1="266.00" x2="294.70" y2="266.00" stroke="#111" stroke-width="0.9"/>
<text x="289.00" y="267.75" font-size="5.2" text-anchor="end" fill="#4a4a4a" font-weight="normal" textLength="11.30" lengthAdjust="spacingAndGlyphs" stroke="#4a4a4a" stroke-width="0.08">80%</text>
<line x1="291.90" y1="256.00" x2="294.70" y2="256.00" stroke="#111" stroke-width="0.9"/>
<text x="289.00" y="257.75" font-size="5.2" text-anchor="end" fill="#4a4a4a" font-weight="normal" textLength="13.80" lengthAdjust="spacingAndGlyphs" stroke="#4a4a4a" stroke-width="0.08">100%</text>
<line x1="306.40" y1="306.00" x2="306.40" y2="309.00" stroke="#111" stroke-width="0.9"/>
<line x1="317.60" y1="306.00" x2="317.60" y2="309.00" stroke="#111" stroke-width="0.9"/>
<line x1="328.80" y1="306.00" x2="328.80" y2="309.00" stroke="#111" stroke-width="0.9"/>
<line x1="340.00" y1="306.00" x2="340.00" y2="309.00" stroke="#111" stroke-width="0.9"/>
<line x1="351.20" y1="306.00" x2="351.20" y2="309.00" stroke="#111" stroke-width="0.9"/>
<line x1="362.40" y1="306.00" x2="362.40" y2="309.00" stroke="#111" stroke-width="0.9"/>
<line x1="373.60" y1="306.00" x2="373.60" y2="309.00" stroke="#111" stroke-width="0.9"/>
<line x1="384.80" y1="306.00" x2="384.80" y2="309.00" stroke="#111" stroke-width="0.9"/>
<text transform="translate(303.90,312.30) rotate(-45)" x="0" y="0" font-size="5.2" text-anchor="end" fill="#2a2a2a" font-weight="normal" textLength="20.20" lengthAdjust="spacingAndGlyphs" stroke="#2a2a2a" stroke-width="0.08">Pre-HCT</text>
<text transform="translate(315.17,312.30) rotate(-45)" x="0" y="0" font-size="5.2" text-anchor="end" fill="#2a2a2a" font-weight="normal" textLength="9.50" lengthAdjust="spacingAndGlyphs" stroke="#2a2a2a" stroke-width="0.08">1mo</text>
<text transform="translate(326.44,312.30) rotate(-45)" x="0" y="0" font-size="5.2" text-anchor="end" fill="#2a2a2a" font-weight="normal" textLength="11.00" lengthAdjust="spacingAndGlyphs" stroke="#2a2a2a" stroke-width="0.08">3mo</text>
<text transform="translate(337.71,312.30) rotate(-45)" x="0" y="0" font-size="5.2" text-anchor="end" fill="#2a2a2a" font-weight="normal" textLength="11.00" lengthAdjust="spacingAndGlyphs" stroke="#2a2a2a" stroke-width="0.08">6mo</text>
<text transform="translate(348.98,312.30) rotate(-45)" x="0" y="0" font-size="5.2" text-anchor="end" fill="#2a2a2a" font-weight="normal" textLength="11.00" lengthAdjust="spacingAndGlyphs" stroke="#2a2a2a" stroke-width="0.08">9mo</text>
<text transform="translate(360.25,312.30) rotate(-45)" x="0" y="0" font-size="5.2" text-anchor="end" fill="#2a2a2a" font-weight="normal" textLength="13.50" lengthAdjust="spacingAndGlyphs" stroke="#2a2a2a" stroke-width="0.08">12mo</text>
<text transform="translate(371.52,312.30) rotate(-45)" x="0" y="0" font-size="5.2" text-anchor="end" fill="#2a2a2a" font-weight="normal" textLength="13.50" lengthAdjust="spacingAndGlyphs" stroke="#2a2a2a" stroke-width="0.08">18mo</text>
<text transform="translate(382.79,312.30) rotate(-45)" x="0" y="0" font-size="5.2" text-anchor="end" fill="#2a2a2a" font-weight="normal" textLength="13.50" lengthAdjust="spacingAndGlyphs" stroke="#2a2a2a" stroke-width="0.08">24mo</text>
<rect x="420.90" y="299.81" width="3.00" height="6.39" fill="#aa0028"/>
<rect x="423.90" y="290.01" width="3.00" height="16.19" fill="#62aa34"/>
<rect x="432.17" y="281.45" width="3.00" height="24.75" fill="#aa0028"/>
<rect x="435.17" y="286.40" width="3.00" height="19.80" fill="#62aa34"/>
<rect x="443.44" y="292.14" width="3.00" height="14.06" fill="#aa0028"/>
<rect x="446.44" y="292.14" width="3.00" height="14.06" fill="#62aa34"/>
<rect x="454.71" y="267.00" width="3.00" height="39.20" fill="#aa0028"/>
<rect x="457.71" y="273.18" width="3.00" height="33.02" fill="#62aa34"/>
<rect x="465.98" y="270.96" width="3.00" height="35.24" fill="#aa0028"/>
<rect x="468.98" y="298.03" width="3.00" height="8.17" fill="#62aa34"/>
<rect x="477.25" y="274.02" width="3.00" height="32.18" fill="#aa0028"/>
<rect x="480.25" y="256.80" width="3.00" height="49.40" fill="#62aa34"/>
<rect x="488.52" y="279.62" width="3.00" height="26.58" fill="#aa0028"/>
<rect x="491.52" y="290.46" width="3.00" height="15.74" fill="#62aa34"/>
<rect x="499.79" y="291.65" width="3.00" height="14.55" fill="#aa0028"/>
<text x="468.98" y="271.16" font-size="6.0" text-anchor="middle" fill="#111" font-weight="bold" textLength="2.05" lengthAdjust="spacingAndGlyphs">*</text>
<line x1="418.20" y1="254.50" x2="418.20" y2="309.40" stroke="#111" stroke-width="1.2"/>
<line x1="417.60" y1="306.20" x2="511.50" y2="306.20" stroke="#111" stroke-width="1.25"/>
<line x1="415.40" y1="306.20" x2="418.20" y2="306.20" stroke="#111" stroke-width="0.9"/>
<text x="412.50" y="307.95" font-size="5.2" text-anchor="end" fill="#4a4a4a" font-weight="normal" textLength="8.60" lengthAdjust="spacingAndGlyphs" stroke="#4a4a4a" stroke-width="0.08">0%</text>
<line x1="415.40" y1="296.30" x2="418.20" y2="296.30" stroke="#111" stroke-width="0.9"/>
<text x="412.50" y="298.05" font-size="5.2" text-anchor="end" fill="#4a4a4a" font-weight="normal" textLength="11.30" lengthAdjust="spacingAndGlyphs" stroke="#4a4a4a" stroke-width="0.08">20%</text>
<line x1="415.40" y1="286.40" x2="418.20" y2="286.40" stroke="#111" stroke-width="0.9"/>
<text x="412.50" y="288.15" font-size="5.2" text-anchor="end" fill="#4a4a4a" font-weight="normal" textLength="11.30" lengthAdjust="spacingAndGlyphs" stroke="#4a4a4a" stroke-width="0.08">40%</text>
<line x1="415.40" y1="276.50" x2="418.20" y2="276.50" stroke="#111" stroke-width="0.9"/>
<text x="412.50" y="278.25" font-size="5.2" text-anchor="end" fill="#4a4a4a" font-weight="normal" textLength="11.30" lengthAdjust="spacingAndGlyphs" stroke="#4a4a4a" stroke-width="0.08">60%</text>
<line x1="415.40" y1="266.60" x2="418.20" y2="266.60" stroke="#111" stroke-width="0.9"/>
<text x="412.50" y="268.35" font-size="5.2" text-anchor="end" fill="#4a4a4a" font-weight="normal" textLength="11.30" lengthAdjust="spacingAndGlyphs" stroke="#4a4a4a" stroke-width="0.08">80%</text>
<line x1="415.40" y1="256.70" x2="418.20" y2="256.70" stroke="#111" stroke-width="0.9"/>
<text x="412.50" y="258.45" font-size="5.2" text-anchor="end" fill="#4a4a4a" font-weight="normal" textLength="13.80" lengthAdjust="spacingAndGlyphs" stroke="#4a4a4a" stroke-width="0.08">100%</text>
<line x1="429.80" y1="306.20" x2="429.80" y2="309.20" stroke="#111" stroke-width="0.9"/>
<line x1="441.00" y1="306.20" x2="441.00" y2="309.20" stroke="#111" stroke-width="0.9"/>
<line x1="452.20" y1="306.20" x2="452.20" y2="309.20" stroke="#111" stroke-width="0.9"/>
<line x1="463.40" y1="306.20" x2="463.40" y2="309.20" stroke="#111" stroke-width="0.9"/>
<line x1="474.60" y1="306.20" x2="474.60" y2="309.20" stroke="#111" stroke-width="0.9"/>
<line x1="485.80" y1="306.20" x2="485.80" y2="309.20" stroke="#111" stroke-width="0.9"/>
<line x1="497.00" y1="306.20" x2="497.00" y2="309.20" stroke="#111" stroke-width="0.9"/>
<line x1="508.20" y1="306.20" x2="508.20" y2="309.20" stroke="#111" stroke-width="0.9"/>
<text transform="translate(427.30,312.50) rotate(-45)" x="0" y="0" font-size="5.2" text-anchor="end" fill="#2a2a2a" font-weight="normal" textLength="20.20" lengthAdjust="spacingAndGlyphs" stroke="#2a2a2a" stroke-width="0.08">Pre-HCT</text>
<text transform="translate(438.57,312.50) rotate(-45)" x="0" y="0" font-size="5.2" text-anchor="end" fill="#2a2a2a" font-weight="normal" textLength="9.50" lengthAdjust="spacingAndGlyphs" stroke="#2a2a2a" stroke-width="0.08">1mo</text>
<text transform="translate(449.84,312.50) rotate(-45)" x="0" y="0" font-size="5.2" text-anchor="end" fill="#2a2a2a" font-weight="normal" textLength="11.00" lengthAdjust="spacingAndGlyphs" stroke="#2a2a2a" stroke-width="0.08">3mo</text>
<text transform="translate(461.11,312.50) rotate(-45)" x="0" y="0" font-size="5.2" text-anchor="end" fill="#2a2a2a" font-weight="normal" textLength="11.00" lengthAdjust="spacingAndGlyphs" stroke="#2a2a2a" stroke-width="0.08">6mo</text>
<text transform="translate(472.38,312.50) rotate(-45)" x="0" y="0" font-size="5.2" text-anchor="end" fill="#2a2a2a" font-weight="normal" textLength="11.00" lengthAdjust="spacingAndGlyphs" stroke="#2a2a2a" stroke-width="0.08">9mo</text>
<text transform="translate(483.65,312.50) rotate(-45)" x="0" y="0" font-size="5.2" text-anchor="end" fill="#2a2a2a" font-weight="normal" textLength="13.50" lengthAdjust="spacingAndGlyphs" stroke="#2a2a2a" stroke-width="0.08">12mo</text>
<text transform="translate(494.92,312.50) rotate(-45)" x="0" y="0" font-size="5.2" text-anchor="end" fill="#2a2a2a" font-weight="normal" textLength="13.50" lengthAdjust="spacingAndGlyphs" stroke="#2a2a2a" stroke-width="0.08">18mo</text>
<text transform="translate(506.19,312.50) rotate(-45)" x="0" y="0" font-size="5.2" text-anchor="end" fill="#2a2a2a" font-weight="normal" textLength="13.50" lengthAdjust="spacingAndGlyphs" stroke="#2a2a2a" stroke-width="0.08">24mo</text>
<rect x="297.50" y="383.09" width="3.00" height="6.41" fill="#aa0028"/>
<rect x="300.50" y="381.40" width="3.00" height="8.10" fill="#62aa34"/>
<rect x="308.77" y="384.48" width="3.00" height="5.02" fill="#aa0028"/>
<rect x="311.77" y="380.01" width="3.00" height="9.49" fill="#62aa34"/>
<rect x="320.04" y="375.58" width="3.00" height="13.92" fill="#aa0028"/>
<rect x="323.04" y="375.58" width="3.00" height="13.92" fill="#62aa34"/>
<rect x="331.31" y="381.60" width="3.00" height="7.90" fill="#aa0028"/>
<rect x="334.31" y="381.60" width="3.00" height="7.90" fill="#62aa34"/>
<rect x="342.58" y="377.92" width="3.00" height="11.58" fill="#aa0028"/>
<rect x="353.85" y="374.49" width="3.00" height="15.01" fill="#aa0028"/>
<rect x="356.85" y="377.32" width="3.00" height="12.18" fill="#62aa34"/>
<rect x="365.12" y="385.18" width="3.00" height="4.32" fill="#aa0028"/>
<rect x="376.39" y="387.21" width="3.00" height="2.29" fill="#aa0028"/>
<line x1="294.70" y1="337.60" x2="294.70" y2="392.70" stroke="#111" stroke-width="1.2"/>
<line x1="294.10" y1="389.50" x2="388.20" y2="389.50" stroke="#111" stroke-width="1.25"/>
<line x1="291.90" y1="389.50" x2="294.70" y2="389.50" stroke="#111" stroke-width="0.9"/>
<text x="289.00" y="391.25" font-size="5.2" text-anchor="end" fill="#4a4a4a" font-weight="normal" textLength="8.60" lengthAdjust="spacingAndGlyphs" stroke="#4a4a4a" stroke-width="0.08">0%</text>
<line x1="291.90" y1="379.56" x2="294.70" y2="379.56" stroke="#111" stroke-width="0.9"/>
<text x="289.00" y="381.31" font-size="5.2" text-anchor="end" fill="#4a4a4a" font-weight="normal" textLength="11.30" lengthAdjust="spacingAndGlyphs" stroke="#4a4a4a" stroke-width="0.08">20%</text>
<line x1="291.90" y1="369.62" x2="294.70" y2="369.62" stroke="#111" stroke-width="0.9"/>
<text x="289.00" y="371.37" font-size="5.2" text-anchor="end" fill="#4a4a4a" font-weight="normal" textLength="11.30" lengthAdjust="spacingAndGlyphs" stroke="#4a4a4a" stroke-width="0.08">40%</text>
<line x1="291.90" y1="359.68" x2="294.70" y2="359.68" stroke="#111" stroke-width="0.9"/>
<text x="289.00" y="361.43" font-size="5.2" text-anchor="end" fill="#4a4a4a" font-weight="normal" textLength="11.30" lengthAdjust="spacingAndGlyphs" stroke="#4a4a4a" stroke-width="0.08">60%</text>
<line x1="291.90" y1="349.74" x2="294.70" y2="349.74" stroke="#111" stroke-width="0.9"/>
<text x="289.00" y="351.49" font-size="5.2" text-anchor="end" fill="#4a4a4a" font-weight="normal" textLength="11.30" lengthAdjust="spacingAndGlyphs" stroke="#4a4a4a" stroke-width="0.08">80%</text>
<line x1="291.90" y1="339.80" x2="294.70" y2="339.80" stroke="#111" stroke-width="0.9"/>
<text x="289.00" y="341.55" font-size="5.2" text-anchor="end" fill="#4a4a4a" font-weight="normal" textLength="13.80" lengthAdjust="spacingAndGlyphs" stroke="#4a4a4a" stroke-width="0.08">100%</text>
<line x1="306.40" y1="389.50" x2="306.40" y2="392.50" stroke="#111" stroke-width="0.9"/>
<line x1="317.60" y1="389.50" x2="317.60" y2="392.50" stroke="#111" stroke-width="0.9"/>
<line x1="328.80" y1="389.50" x2="328.80" y2="392.50" stroke="#111" stroke-width="0.9"/>
<line x1="340.00" y1="389.50" x2="340.00" y2="392.50" stroke="#111" stroke-width="0.9"/>
<line x1="351.20" y1="389.50" x2="351.20" y2="392.50" stroke="#111" stroke-width="0.9"/>
<line x1="362.40" y1="389.50" x2="362.40" y2="392.50" stroke="#111" stroke-width="0.9"/>
<line x1="373.60" y1="389.50" x2="373.60" y2="392.50" stroke="#111" stroke-width="0.9"/>
<line x1="384.80" y1="389.50" x2="384.80" y2="392.50" stroke="#111" stroke-width="0.9"/>
<text transform="translate(303.90,395.80) rotate(-45)" x="0" y="0" font-size="5.2" text-anchor="end" fill="#2a2a2a" font-weight="normal" textLength="20.20" lengthAdjust="spacingAndGlyphs" stroke="#2a2a2a" stroke-width="0.08">Pre-HCT</text>
<text transform="translate(315.17,395.80) rotate(-45)" x="0" y="0" font-size="5.2" text-anchor="end" fill="#2a2a2a" font-weight="normal" textLength="9.50" lengthAdjust="spacingAndGlyphs" stroke="#2a2a2a" stroke-width="0.08">1mo</text>
<text transform="translate(326.44,395.80) rotate(-45)" x="0" y="0" font-size="5.2" text-anchor="end" fill="#2a2a2a" font-weight="normal" textLength="11.00" lengthAdjust="spacingAndGlyphs" stroke="#2a2a2a" stroke-width="0.08">3mo</text>
<text transform="translate(337.71,395.80) rotate(-45)" x="0" y="0" font-size="5.2" text-anchor="end" fill="#2a2a2a" font-weight="normal" textLength="11.00" lengthAdjust="spacingAndGlyphs" stroke="#2a2a2a" stroke-width="0.08">6mo</text>
<text transform="translate(348.98,395.80) rotate(-45)" x="0" y="0" font-size="5.2" text-anchor="end" fill="#2a2a2a" font-weight="normal" textLength="11.00" lengthAdjust="spacingAndGlyphs" stroke="#2a2a2a" stroke-width="0.08">9mo</text>
<text transform="translate(360.25,395.80) rotate(-45)" x="0" y="0" font-size="5.2" text-anchor="end" fill="#2a2a2a" font-weight="normal" textLength="13.50" lengthAdjust="spacingAndGlyphs" stroke="#2a2a2a" stroke-width="0.08">12mo</text>
<text transform="translate(371.52,395.80) rotate(-45)" x="0" y="0" font-size="5.2" text-anchor="end" fill="#2a2a2a" font-weight="normal" textLength="13.50" lengthAdjust="spacingAndGlyphs" stroke="#2a2a2a" stroke-width="0.08">18mo</text>
<text transform="translate(382.79,395.80) rotate(-45)" x="0" y="0" font-size="5.2" text-anchor="end" fill="#2a2a2a" font-weight="normal" textLength="13.50" lengthAdjust="spacingAndGlyphs" stroke="#2a2a2a" stroke-width="0.08">24mo</text>
<rect x="420.90" y="379.14" width="3.00" height="10.36" fill="#aa0028"/>
<rect x="423.90" y="357.04" width="3.00" height="32.46" fill="#62aa34"/>
<rect x="432.17" y="368.14" width="3.00" height="21.36" fill="#aa0028"/>
<rect x="443.44" y="369.03" width="3.00" height="20.47" fill="#aa0028"/>
<rect x="446.44" y="369.03" width="3.00" height="20.47" fill="#62aa34"/>
<rect x="454.71" y="361.12" width="3.00" height="28.38" fill="#aa0028"/>
<rect x="457.71" y="373.59" width="3.00" height="15.91" fill="#62aa34"/>
<rect x="465.98" y="356.70" width="3.00" height="32.80" fill="#aa0028"/>
<rect x="468.98" y="373.59" width="3.00" height="15.91" fill="#62aa34"/>
<rect x="477.25" y="355.33" width="3.00" height="34.17" fill="#aa0028"/>
<rect x="480.25" y="340.40" width="3.00" height="49.10" fill="#62aa34"/>
<rect x="488.52" y="360.33" width="3.00" height="29.17" fill="#aa0028"/>
<rect x="499.79" y="372.56" width="3.00" height="16.94" fill="#aa0028"/>
<text x="423.90" y="357.24" font-size="6.0" text-anchor="middle" fill="#111" font-weight="bold" textLength="2.05" lengthAdjust="spacingAndGlyphs">*</text>
<line x1="418.20" y1="338.20" x2="418.20" y2="392.70" stroke="#111" stroke-width="1.2"/>
<line x1="417.60" y1="389.50" x2="511.50" y2="389.50" stroke="#111" stroke-width="1.25"/>
<line x1="415.40" y1="389.50" x2="418.20" y2="389.50" stroke="#111" stroke-width="0.9"/>
<text x="412.50" y="391.25" font-size="5.2" text-anchor="end" fill="#4a4a4a" font-weight="normal" textLength="8.60" lengthAdjust="spacingAndGlyphs" stroke="#4a4a4a" stroke-width="0.08">0%</text>
<line x1="415.40" y1="379.68" x2="418.20" y2="379.68" stroke="#111" stroke-width="0.9"/>
<text x="412.50" y="381.43" font-size="5.2" text-anchor="end" fill="#4a4a4a" font-weight="normal" textLength="11.30" lengthAdjust="spacingAndGlyphs" stroke="#4a4a4a" stroke-width="0.08">20%</text>
<line x1="415.40" y1="369.86" x2="418.20" y2="369.86" stroke="#111" stroke-width="0.9"/>
<text x="412.50" y="371.61" font-size="5.2" text-anchor="end" fill="#4a4a4a" font-weight="normal" textLength="11.30" lengthAdjust="spacingAndGlyphs" stroke="#4a4a4a" stroke-width="0.08">40%</text>
<line x1="415.40" y1="360.04" x2="418.20" y2="360.04" stroke="#111" stroke-width="0.9"/>
<text x="412.50" y="361.79" font-size="5.2" text-anchor="end" fill="#4a4a4a" font-weight="normal" textLength="11.30" lengthAdjust="spacingAndGlyphs" stroke="#4a4a4a" stroke-width="0.08">60%</text>
<line x1="415.40" y1="350.22" x2="418.20" y2="350.22" stroke="#111" stroke-width="0.9"/>
<text x="412.50" y="351.97" font-size="5.2" text-anchor="end" fill="#4a4a4a" font-weight="normal" textLength="11.30" lengthAdjust="spacingAndGlyphs" stroke="#4a4a4a" stroke-width="0.08">80%</text>
<line x1="415.40" y1="340.40" x2="418.20" y2="340.40" stroke="#111" stroke-width="0.9"/>
<text x="412.50" y="342.15" font-size="5.2" text-anchor="end" fill="#4a4a4a" font-weight="normal" textLength="13.80" lengthAdjust="spacingAndGlyphs" stroke="#4a4a4a" stroke-width="0.08">100%</text>
<line x1="429.80" y1="389.50" x2="429.80" y2="392.50" stroke="#111" stroke-width="0.9"/>
<line x1="441.00" y1="389.50" x2="441.00" y2="392.50" stroke="#111" stroke-width="0.9"/>
<line x1="452.20" y1="389.50" x2="452.20" y2="392.50" stroke="#111" stroke-width="0.9"/>
<line x1="463.40" y1="389.50" x2="463.40" y2="392.50" stroke="#111" stroke-width="0.9"/>
<line x1="474.60" y1="389.50" x2="474.60" y2="392.50" stroke="#111" stroke-width="0.9"/>
<line x1="485.80" y1="389.50" x2="485.80" y2="392.50" stroke="#111" stroke-width="0.9"/>
<line x1="497.00" y1="389.50" x2="497.00" y2="392.50" stroke="#111" stroke-width="0.9"/>
<line x1="508.20" y1="389.50" x2="508.20" y2="392.50" stroke="#111" stroke-width="0.9"/>
<text transform="translate(427.30,395.80) rotate(-45)" x="0" y="0" font-size="5.2" text-anchor="end" fill="#2a2a2a" font-weight="normal" textLength="20.20" lengthAdjust="spacingAndGlyphs" stroke="#2a2a2a" stroke-width="0.08">Pre-HCT</text>
<text transform="translate(438.57,395.80) rotate(-45)" x="0" y="0" font-size="5.2" text-anchor="end" fill="#2a2a2a" font-weight="normal" textLength="9.50" lengthAdjust="spacingAndGlyphs" stroke="#2a2a2a" stroke-width="0.08">1mo</text>
<text transform="translate(449.84,395.80) rotate(-45)" x="0" y="0" font-size="5.2" text-anchor="end" fill="#2a2a2a" font-weight="normal" textLength="11.00" lengthAdjust="spacingAndGlyphs" stroke="#2a2a2a" stroke-width="0.08">3mo</text>
<text transform="translate(461.11,395.80) rotate(-45)" x="0" y="0" font-size="5.2" text-anchor="end" fill="#2a2a2a" font-weight="normal" textLength="11.00" lengthAdjust="spacingAndGlyphs" stroke="#2a2a2a" stroke-width="0.08">6mo</text>
<text transform="translate(472.38,395.80) rotate(-45)" x="0" y="0" font-size="5.2" text-anchor="end" fill="#2a2a2a" font-weight="normal" textLength="11.00" lengthAdjust="spacingAndGlyphs" stroke="#2a2a2a" stroke-width="0.08">9mo</text>
<text transform="translate(483.65,395.80) rotate(-45)" x="0" y="0" font-size="5.2" text-anchor="end" fill="#2a2a2a" font-weight="normal" textLength="13.50" lengthAdjust="spacingAndGlyphs" stroke="#2a2a2a" stroke-width="0.08">12mo</text>
<text transform="translate(494.92,395.80) rotate(-45)" x="0" y="0" font-size="5.2" text-anchor="end" fill="#2a2a2a" font-weight="normal" textLength="13.50" lengthAdjust="spacingAndGlyphs" stroke="#2a2a2a" stroke-width="0.08">18mo</text>
<text transform="translate(506.19,395.80) rotate(-45)" x="0" y="0" font-size="5.2" text-anchor="end" fill="#2a2a2a" font-weight="normal" textLength="13.50" lengthAdjust="spacingAndGlyphs" stroke="#2a2a2a" stroke-width="0.08">24mo</text>
<rect x="297.50" y="464.05" width="3.00" height="9.60" fill="#aa0028"/>
<rect x="308.77" y="465.15" width="3.00" height="8.50" fill="#aa0028"/>
<rect x="320.04" y="461.47" width="3.00" height="12.18" fill="#aa0028"/>
<rect x="331.31" y="458.93" width="3.00" height="14.72" fill="#aa0028"/>
<rect x="342.58" y="458.93" width="3.00" height="14.72" fill="#aa0028"/>
<rect x="353.85" y="449.49" width="3.00" height="24.16" fill="#aa0028"/>
<rect x="365.12" y="464.15" width="3.00" height="9.50" fill="#aa0028"/>
<rect x="376.39" y="458.54" width="3.00" height="15.11" fill="#aa0028"/>
<line x1="294.70" y1="421.75" x2="294.70" y2="476.85" stroke="#111" stroke-width="1.2"/>
<line x1="294.10" y1="473.65" x2="388.20" y2="473.65" stroke="#111" stroke-width="1.25"/>
<line x1="291.90" y1="473.65" x2="294.70" y2="473.65" stroke="#111" stroke-width="0.9"/>
<text x="289.00" y="475.40" font-size="5.2" text-anchor="end" fill="#4a4a4a" font-weight="normal" textLength="8.60" lengthAdjust="spacingAndGlyphs" stroke="#4a4a4a" stroke-width="0.08">0%</text>
<line x1="291.90" y1="463.71" x2="294.70" y2="463.71" stroke="#111" stroke-width="0.9"/>
<text x="289.00" y="465.46" font-size="5.2" text-anchor="end" fill="#4a4a4a" font-weight="normal" textLength="11.30" lengthAdjust="spacingAndGlyphs" stroke="#4a4a4a" stroke-width="0.08">20%</text>
<line x1="291.90" y1="453.77" x2="294.70" y2="453.77" stroke="#111" stroke-width="0.9"/>
<text x="289.00" y="455.52" font-size="5.2" text-anchor="end" fill="#4a4a4a" font-weight="normal" textLength="11.30" lengthAdjust="spacingAndGlyphs" stroke="#4a4a4a" stroke-width="0.08">40%</text>
<line x1="291.90" y1="443.83" x2="294.70" y2="443.83" stroke="#111" stroke-width="0.9"/>
<text x="289.00" y="445.58" font-size="5.2" text-anchor="end" fill="#4a4a4a" font-weight="normal" textLength="11.30" lengthAdjust="spacingAndGlyphs" stroke="#4a4a4a" stroke-width="0.08">60%</text>
<line x1="291.90" y1="433.89" x2="294.70" y2="433.89" stroke="#111" stroke-width="0.9"/>
<text x="289.00" y="435.64" font-size="5.2" text-anchor="end" fill="#4a4a4a" font-weight="normal" textLength="11.30" lengthAdjust="spacingAndGlyphs" stroke="#4a4a4a" stroke-width="0.08">80%</text>
<line x1="291.90" y1="423.95" x2="294.70" y2="423.95" stroke="#111" stroke-width="0.9"/>
<text x="289.00" y="425.70" font-size="5.2" text-anchor="end" fill="#4a4a4a" font-weight="normal" textLength="13.80" lengthAdjust="spacingAndGlyphs" stroke="#4a4a4a" stroke-width="0.08">100%</text>
<line x1="306.40" y1="473.65" x2="306.40" y2="476.65" stroke="#111" stroke-width="0.9"/>
<line x1="317.60" y1="473.65" x2="317.60" y2="476.65" stroke="#111" stroke-width="0.9"/>
<line x1="328.80" y1="473.65" x2="328.80" y2="476.65" stroke="#111" stroke-width="0.9"/>
<line x1="340.00" y1="473.65" x2="340.00" y2="476.65" stroke="#111" stroke-width="0.9"/>
<line x1="351.20" y1="473.65" x2="351.20" y2="476.65" stroke="#111" stroke-width="0.9"/>
<line x1="362.40" y1="473.65" x2="362.40" y2="476.65" stroke="#111" stroke-width="0.9"/>
<line x1="373.60" y1="473.65" x2="373.60" y2="476.65" stroke="#111" stroke-width="0.9"/>
<line x1="384.80" y1="473.65" x2="384.80" y2="476.65" stroke="#111" stroke-width="0.9"/>
<text transform="translate(303.90,479.95) rotate(-45)" x="0" y="0" font-size="5.2" text-anchor="end" fill="#2a2a2a" font-weight="normal" textLength="20.20" lengthAdjust="spacingAndGlyphs" stroke="#2a2a2a" stroke-width="0.08">Pre-HCT</text>
<text transform="translate(315.17,479.95) rotate(-45)" x="0" y="0" font-size="5.2" text-anchor="end" fill="#2a2a2a" font-weight="normal" textLength="9.50" lengthAdjust="spacingAndGlyphs" stroke="#2a2a2a" stroke-width="0.08">1mo</text>
<text transform="translate(326.44,479.95) rotate(-45)" x="0" y="0" font-size="5.2" text-anchor="end" fill="#2a2a2a" font-weight="normal" textLength="11.00" lengthAdjust="spacingAndGlyphs" stroke="#2a2a2a" stroke-width="0.08">3mo</text>
<text transform="translate(337.71,479.95) rotate(-45)" x="0" y="0" font-size="5.2" text-anchor="end" fill="#2a2a2a" font-weight="normal" textLength="11.00" lengthAdjust="spacingAndGlyphs" stroke="#2a2a2a" stroke-width="0.08">6mo</text>
<text transform="translate(348.98,479.95) rotate(-45)" x="0" y="0" font-size="5.2" text-anchor="end" fill="#2a2a2a" font-weight="normal" textLength="11.00" lengthAdjust="spacingAndGlyphs" stroke="#2a2a2a" stroke-width="0.08">9mo</text>
<text transform="translate(360.25,479.95) rotate(-45)" x="0" y="0" font-size="5.2" text-anchor="end" fill="#2a2a2a" font-weight="normal" textLength="13.50" lengthAdjust="spacingAndGlyphs" stroke="#2a2a2a" stroke-width="0.08">12mo</text>
<text transform="translate(371.52,479.95) rotate(-45)" x="0" y="0" font-size="5.2" text-anchor="end" fill="#2a2a2a" font-weight="normal" textLength="13.50" lengthAdjust="spacingAndGlyphs" stroke="#2a2a2a" stroke-width="0.08">18mo</text>
<text transform="translate(382.79,479.95) rotate(-45)" x="0" y="0" font-size="5.2" text-anchor="end" fill="#2a2a2a" font-weight="normal" textLength="13.50" lengthAdjust="spacingAndGlyphs" stroke="#2a2a2a" stroke-width="0.08">24mo</text>
<rect x="420.90" y="456.80" width="3.00" height="16.80" fill="#aa0028"/>
<rect x="423.90" y="448.70" width="3.00" height="24.90" fill="#62aa34"/>
<rect x="432.17" y="465.10" width="3.00" height="8.50" fill="#aa0028"/>
<rect x="443.44" y="456.75" width="3.00" height="16.85" fill="#aa0028"/>
<rect x="454.71" y="456.75" width="3.00" height="16.85" fill="#aa0028"/>
<rect x="457.71" y="465.29" width="3.00" height="8.31" fill="#62aa34"/>
<rect x="465.98" y="456.75" width="3.00" height="16.85" fill="#aa0028"/>
<rect x="477.25" y="454.08" width="3.00" height="19.52" fill="#aa0028"/>
<rect x="488.52" y="457.78" width="3.00" height="15.82" fill="#aa0028"/>
<rect x="499.79" y="461.09" width="3.00" height="12.51" fill="#aa0028"/>
<rect x="502.79" y="461.09" width="3.00" height="12.51" fill="#62aa34"/>
<line x1="418.20" y1="422.00" x2="418.20" y2="476.80" stroke="#111" stroke-width="1.2"/>
<line x1="417.60" y1="473.60" x2="511.50" y2="473.60" stroke="#111" stroke-width="1.25"/>
<line x1="415.40" y1="473.60" x2="418.20" y2="473.60" stroke="#111" stroke-width="0.9"/>
<text x="412.50" y="475.35" font-size="5.2" text-anchor="end" fill="#4a4a4a" font-weight="normal" textLength="8.60" lengthAdjust="spacingAndGlyphs" stroke="#4a4a4a" stroke-width="0.08">0%</text>
<line x1="415.40" y1="463.72" x2="418.20" y2="463.72" stroke="#111" stroke-width="0.9"/>
<text x="412.50" y="465.47" font-size="5.2" text-anchor="end" fill="#4a4a4a" font-weight="normal" textLength="11.30" lengthAdjust="spacingAndGlyphs" stroke="#4a4a4a" stroke-width="0.08">20%</text>
<line x1="415.40" y1="453.84" x2="418.20" y2="453.84" stroke="#111" stroke-width="0.9"/>
<text x="412.50" y="455.59" font-size="5.2" text-anchor="end" fill="#4a4a4a" font-weight="normal" textLength="11.30" lengthAdjust="spacingAndGlyphs" stroke="#4a4a4a" stroke-width="0.08">40%</text>
<line x1="415.40" y1="443.96" x2="418.20" y2="443.96" stroke="#111" stroke-width="0.9"/>
<text x="412.50" y="445.71" font-size="5.2" text-anchor="end" fill="#4a4a4a" font-weight="normal" textLength="11.30" lengthAdjust="spacingAndGlyphs" stroke="#4a4a4a" stroke-width="0.08">60%</text>
<line x1="415.40" y1="434.08" x2="418.20" y2="434.08" stroke="#111" stroke-width="0.9"/>
<text x="412.50" y="435.83" font-size="5.2" text-anchor="end" fill="#4a4a4a" font-weight="normal" textLength="11.30" lengthAdjust="spacingAndGlyphs" stroke="#4a4a4a" stroke-width="0.08">80%</text>
<line x1="415.40" y1="424.20" x2="418.20" y2="424.20" stroke="#111" stroke-width="0.9"/>
<text x="412.50" y="425.95" font-size="5.2" text-anchor="end" fill="#4a4a4a" font-weight="normal" textLength="13.80" lengthAdjust="spacingAndGlyphs" stroke="#4a4a4a" stroke-width="0.08">100%</text>
<line x1="429.80" y1="473.60" x2="429.80" y2="476.60" stroke="#111" stroke-width="0.9"/>
<line x1="441.00" y1="473.60" x2="441.00" y2="476.60" stroke="#111" stroke-width="0.9"/>
<line x1="452.20" y1="473.60" x2="452.20" y2="476.60" stroke="#111" stroke-width="0.9"/>
<line x1="463.40" y1="473.60" x2="463.40" y2="476.60" stroke="#111" stroke-width="0.9"/>
<line x1="474.60" y1="473.60" x2="474.60" y2="476.60" stroke="#111" stroke-width="0.9"/>
<line x1="485.80" y1="473.60" x2="485.80" y2="476.60" stroke="#111" stroke-width="0.9"/>
<line x1="497.00" y1="473.60" x2="497.00" y2="476.60" stroke="#111" stroke-width="0.9"/>
<line x1="508.20" y1="473.60" x2="508.20" y2="476.60" stroke="#111" stroke-width="0.9"/>
<text transform="translate(427.30,479.90) rotate(-45)" x="0" y="0" font-size="5.2" text-anchor="end" fill="#2a2a2a" font-weight="normal" textLength="20.20" lengthAdjust="spacingAndGlyphs" stroke="#2a2a2a" stroke-width="0.08">Pre-HCT</text>
<text transform="translate(438.57,479.90) rotate(-45)" x="0" y="0" font-size="5.2" text-anchor="end" fill="#2a2a2a" font-weight="normal" textLength="9.50" lengthAdjust="spacingAndGlyphs" stroke="#2a2a2a" stroke-width="0.08">1mo</text>
<text transform="translate(449.84,479.90) rotate(-45)" x="0" y="0" font-size="5.2" text-anchor="end" fill="#2a2a2a" font-weight="normal" textLength="11.00" lengthAdjust="spacingAndGlyphs" stroke="#2a2a2a" stroke-width="0.08">3mo</text>
<text transform="translate(461.11,479.90) rotate(-45)" x="0" y="0" font-size="5.2" text-anchor="end" fill="#2a2a2a" font-weight="normal" textLength="11.00" lengthAdjust="spacingAndGlyphs" stroke="#2a2a2a" stroke-width="0.08">6mo</text>
<text transform="translate(472.38,479.90) rotate(-45)" x="0" y="0" font-size="5.2" text-anchor="end" fill="#2a2a2a" font-weight="normal" textLength="11.00" lengthAdjust="spacingAndGlyphs" stroke="#2a2a2a" stroke-width="0.08">9mo</text>
<text transform="translate(483.65,479.90) rotate(-45)" x="0" y="0" font-size="5.2" text-anchor="end" fill="#2a2a2a" font-weight="normal" textLength="13.50" lengthAdjust="spacingAndGlyphs" stroke="#2a2a2a" stroke-width="0.08">12mo</text>
<text transform="translate(494.92,479.90) rotate(-45)" x="0" y="0" font-size="5.2" text-anchor="end" fill="#2a2a2a" font-weight="normal" textLength="13.50" lengthAdjust="spacingAndGlyphs" stroke="#2a2a2a" stroke-width="0.08">18mo</text>
<text transform="translate(506.19,479.90) rotate(-45)" x="0" y="0" font-size="5.2" text-anchor="end" fill="#2a2a2a" font-weight="normal" textLength="13.50" lengthAdjust="spacingAndGlyphs" stroke="#2a2a2a" stroke-width="0.08">24mo</text>
<text x="84.90" y="171.40" font-size="8.6" text-anchor="middle" fill="#222" font-weight="normal" textLength="15.40" lengthAdjust="spacingAndGlyphs">CD8</text>
<text x="202.80" y="171.40" font-size="8.6" text-anchor="middle" fill="#222" font-weight="normal" textLength="15.40" lengthAdjust="spacingAndGlyphs">CD4</text>
<text x="341.50" y="171.40" font-size="8.6" text-anchor="middle" fill="#222" font-weight="normal" textLength="15.40" lengthAdjust="spacingAndGlyphs">CD8</text>
<text x="464.60" y="171.40" font-size="8.6" text-anchor="middle" fill="#222" font-weight="normal" textLength="15.40" lengthAdjust="spacingAndGlyphs">CD4</text>
<text transform="translate(15.10,199.80) rotate(-90)" x="0" y="0" font-size="7.5" text-anchor="middle" fill="#111" font-weight="bold" textLength="14.10" lengthAdjust="spacingAndGlyphs">IFN&#947;+</text>
<text transform="translate(269.30,198.50) rotate(-90)" x="0" y="0" font-size="7.5" text-anchor="middle" fill="#111" font-weight="bold" textLength="14.70" lengthAdjust="spacingAndGlyphs">IFN&#947;+</text>
<text transform="translate(15.10,281.70) rotate(-90)" x="0" y="0" font-size="7.5" text-anchor="middle" fill="#111" font-weight="bold" textLength="12.80" lengthAdjust="spacingAndGlyphs">IL-2+</text>
<text transform="translate(269.30,282.00) rotate(-90)" x="0" y="0" font-size="7.5" text-anchor="middle" fill="#111" font-weight="bold" textLength="12.10" lengthAdjust="spacingAndGlyphs">IL-2+</text>
<text transform="translate(15.10,365.30) rotate(-90)" x="0" y="0" font-size="7.5" text-anchor="middle" fill="#111" font-weight="bold" textLength="18.00" lengthAdjust="spacingAndGlyphs">TNF&#945;+</text>
<text transform="translate(269.30,365.70) rotate(-90)" x="0" y="0" font-size="7.5" text-anchor="middle" fill="#111" font-weight="bold" textLength="17.10" lengthAdjust="spacingAndGlyphs">TNF&#945;+</text>
<text transform="translate(15.10,449.10) rotate(-90)" x="0" y="0" font-size="7.5" text-anchor="middle" fill="#111" font-weight="normal" textLength="19.80" lengthAdjust="spacingAndGlyphs">Cytolytic</text>
<text transform="translate(269.30,449.30) rotate(-90)" x="0" y="0" font-size="7.5" text-anchor="middle" fill="#111" font-weight="normal" textLength="19.50" lengthAdjust="spacingAndGlyphs">Cytolytic</text>
<rect x="83.20" y="505.90" width="3.00" height="3.00" fill="#23447e"/>
<text x="89.10" y="508.80" font-size="5.2" text-anchor="start" fill="#333" font-weight="normal" textLength="38.40" lengthAdjust="spacingAndGlyphs" stroke="#333" stroke-width="0.08">No BKV disease</text>
<rect x="137.10" y="505.90" width="3.00" height="3.00" fill="#aa0028"/>
<text x="143.00" y="508.80" font-size="5.2" text-anchor="start" fill="#333" font-weight="normal" textLength="29.70" lengthAdjust="spacingAndGlyphs" stroke="#333" stroke-width="0.08">BKV disease</text>
<rect x="336.10" y="505.80" width="3.00" height="3.00" fill="#aa0028"/>
<text x="342.30" y="508.80" font-size="5.2" text-anchor="start" fill="#333" font-weight="normal" textLength="34.80" lengthAdjust="spacingAndGlyphs" stroke="#333" stroke-width="0.08">Single Episode</text>
<rect x="386.20" y="505.80" width="3.00" height="3.00" fill="#62aa34"/>
<text x="392.80" y="508.80" font-size="5.2" text-anchor="start" fill="#333" font-weight="normal" textLength="45.00" lengthAdjust="spacingAndGlyphs" stroke="#333" stroke-width="0.08">Recurrent episodes</text>
</svg>
</body></html>
